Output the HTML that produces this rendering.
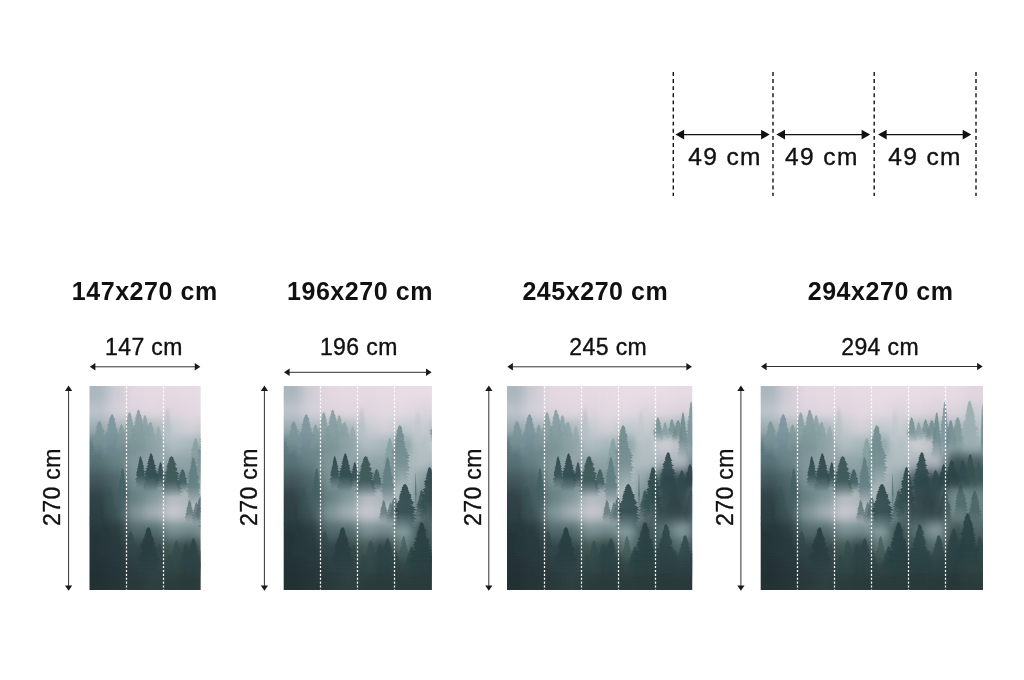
<!DOCTYPE html><html><head><meta charset="utf-8"><title>Wallpaper sizes</title>
<style>
html,body{margin:0;padding:0;background:#fff}
body{width:1024px;height:680px;position:relative;overflow:hidden;font-family:"Liberation Sans",sans-serif;color:#111}
.t{position:absolute;white-space:nowrap;line-height:1}
.h{font-weight:bold;font-size:25px;letter-spacing:0.55px}
.l{font-size:23px;letter-spacing:0.4px;-webkit-text-stroke:0.35px #111}
.c{font-size:24.5px;letter-spacing:1.4px;-webkit-text-stroke:0.35px #111}
.v{font-size:23px;letter-spacing:0.4px;-webkit-text-stroke:0.35px #111;transform-origin:0 0;transform:rotate(-90deg)}
</style></head><body>
<svg width="1024" height="680" viewBox="0 0 1024 680" style="position:absolute;left:0;top:0">
<defs>
<linearGradient id="pg" x1="0" y1="0" x2="0" y2="1"><stop offset="0" stop-color="#e0d0d9"/><stop offset="0.25" stop-color="#b9c3c6"/><stop offset="0.55" stop-color="#6f8a8c"/><stop offset="1" stop-color="#243a3e"/></linearGradient>
<g id="photo"><filter id="gb" x="-20%" y="-20%" width="140%" height="140%" color-interpolation-filters="sRGB"><feGaussianBlur stdDeviation="5.5"/></filter>
<g filter="url(#gb)">
<rect x="-30.3" y="-30.3" width="49.1" height="47.6" fill="#abb7bd"/>
<rect x="18.2" y="-30.3" width="19.1" height="47.6" fill="#d0ccd5"/>
<rect x="36.8" y="-30.3" width="19.1" height="47.6" fill="#e4d8e1"/>
<rect x="55.3" y="-30.3" width="19.1" height="47.6" fill="#e5d9e2"/>
<rect x="73.8" y="-30.3" width="19.1" height="47.6" fill="#e5d9e2"/>
<rect x="92.3" y="-30.3" width="19.1" height="47.6" fill="#e6dae3"/>
<rect x="110.9" y="-30.3" width="19.1" height="47.6" fill="#e8dce5"/>
<rect x="129.4" y="-30.3" width="19.1" height="47.6" fill="#e8dce5"/>
<rect x="147.9" y="-30.3" width="19.1" height="47.6" fill="#e8dce5"/>
<rect x="166.4" y="-30.3" width="19.1" height="47.6" fill="#e6dae3"/>
<rect x="185.0" y="-30.3" width="19.1" height="47.6" fill="#e6dae3"/>
<rect x="203.5" y="-30.3" width="49.1" height="47.6" fill="#e1d6df"/>
<rect x="-30.3" y="16.7" width="49.1" height="17.6" fill="#bec3cb"/>
<rect x="18.2" y="16.7" width="19.1" height="17.6" fill="#d4d0d8"/>
<rect x="36.8" y="16.7" width="19.1" height="17.6" fill="#ddd4dd"/>
<rect x="55.3" y="16.7" width="19.1" height="17.6" fill="#e2d7e0"/>
<rect x="73.8" y="16.7" width="19.1" height="17.6" fill="#ded5de"/>
<rect x="92.3" y="16.7" width="19.1" height="17.6" fill="#e3d8e1"/>
<rect x="110.9" y="16.7" width="19.1" height="17.6" fill="#e4d9e2"/>
<rect x="129.4" y="16.7" width="19.1" height="17.6" fill="#dbd4dd"/>
<rect x="147.9" y="16.7" width="19.1" height="17.6" fill="#e2d7e0"/>
<rect x="166.4" y="16.7" width="19.1" height="17.6" fill="#dad3db"/>
<rect x="185.0" y="16.7" width="19.1" height="17.6" fill="#ddd5dd"/>
<rect x="203.5" y="16.7" width="49.1" height="17.6" fill="#cdced4"/>
<rect x="-30.3" y="33.7" width="49.1" height="17.6" fill="#9cadb1"/>
<rect x="18.2" y="33.7" width="19.1" height="17.6" fill="#a7b6b9"/>
<rect x="36.8" y="33.7" width="19.1" height="17.6" fill="#abb9bc"/>
<rect x="55.3" y="33.7" width="19.1" height="17.6" fill="#aab8bc"/>
<rect x="73.8" y="33.7" width="19.1" height="17.6" fill="#c6cbd0"/>
<rect x="92.3" y="33.7" width="19.1" height="17.6" fill="#d4d0d7"/>
<rect x="110.9" y="33.7" width="19.1" height="17.6" fill="#bfc9cd"/>
<rect x="129.4" y="33.7" width="19.1" height="17.6" fill="#c9cdd2"/>
<rect x="147.9" y="33.7" width="19.1" height="17.6" fill="#aababd"/>
<rect x="166.4" y="33.7" width="19.1" height="17.6" fill="#a1b2b5"/>
<rect x="185.0" y="33.7" width="19.1" height="17.6" fill="#a7b7ba"/>
<rect x="203.5" y="33.7" width="49.1" height="17.6" fill="#b4c1c4"/>
<rect x="-30.3" y="50.7" width="49.1" height="17.6" fill="#607a82"/>
<rect x="18.2" y="50.7" width="19.1" height="17.6" fill="#668083"/>
<rect x="36.8" y="50.7" width="19.1" height="17.6" fill="#799194"/>
<rect x="55.3" y="50.7" width="19.1" height="17.6" fill="#8da1a4"/>
<rect x="73.8" y="50.7" width="19.1" height="17.6" fill="#afbdc1"/>
<rect x="92.3" y="50.7" width="19.1" height="17.6" fill="#a6b6b9"/>
<rect x="110.9" y="50.7" width="19.1" height="17.6" fill="#8ea5a7"/>
<rect x="129.4" y="50.7" width="19.1" height="17.6" fill="#b0bec2"/>
<rect x="147.9" y="50.7" width="19.1" height="17.6" fill="#cdcfd4"/>
<rect x="166.4" y="50.7" width="19.1" height="17.6" fill="#b7bec3"/>
<rect x="185.0" y="50.7" width="19.1" height="17.6" fill="#8da4a6"/>
<rect x="203.5" y="50.7" width="49.1" height="17.6" fill="#9cb0b2"/>
<rect x="-30.3" y="67.7" width="49.1" height="17.6" fill="#577175"/>
<rect x="18.2" y="67.7" width="19.1" height="17.6" fill="#688184"/>
<rect x="36.8" y="67.7" width="19.1" height="17.6" fill="#84989c"/>
<rect x="55.3" y="67.7" width="19.1" height="17.6" fill="#92a3a7"/>
<rect x="73.8" y="67.7" width="19.1" height="17.6" fill="#92a3a7"/>
<rect x="92.3" y="67.7" width="19.1" height="17.6" fill="#8ea4a7"/>
<rect x="110.9" y="67.7" width="19.1" height="17.6" fill="#aab8bc"/>
<rect x="129.4" y="67.7" width="19.1" height="17.6" fill="#b2bec2"/>
<rect x="147.9" y="67.7" width="19.1" height="17.6" fill="#a9b3b9"/>
<rect x="166.4" y="67.7" width="19.1" height="17.6" fill="#b0b7be"/>
<rect x="185.0" y="67.7" width="19.1" height="17.6" fill="#394e51"/>
<rect x="203.5" y="67.7" width="49.1" height="17.6" fill="#465e62"/>
<rect x="-30.3" y="84.7" width="49.1" height="17.6" fill="#43585d"/>
<rect x="18.2" y="84.7" width="19.1" height="17.6" fill="#4e676b"/>
<rect x="36.8" y="84.7" width="19.1" height="17.6" fill="#7b9396"/>
<rect x="55.3" y="84.7" width="19.1" height="17.6" fill="#688184"/>
<rect x="73.8" y="84.7" width="19.1" height="17.6" fill="#7b9194"/>
<rect x="92.3" y="84.7" width="19.1" height="17.6" fill="#7b9396"/>
<rect x="110.9" y="84.7" width="19.1" height="17.6" fill="#b0bcbf"/>
<rect x="129.4" y="84.7" width="19.1" height="17.6" fill="#8ca1a4"/>
<rect x="147.9" y="84.7" width="19.1" height="17.6" fill="#394e51"/>
<rect x="166.4" y="84.7" width="19.1" height="17.6" fill="#35494c"/>
<rect x="185.0" y="84.7" width="19.1" height="17.6" fill="#324548"/>
<rect x="203.5" y="84.7" width="49.1" height="17.6" fill="#40585b"/>
<rect x="-30.3" y="101.7" width="49.1" height="17.6" fill="#324347"/>
<rect x="18.2" y="101.7" width="19.1" height="17.6" fill="#455c60"/>
<rect x="36.8" y="101.7" width="19.1" height="17.6" fill="#688083"/>
<rect x="55.3" y="101.7" width="19.1" height="17.6" fill="#80979a"/>
<rect x="73.8" y="101.7" width="19.1" height="17.6" fill="#b2babf"/>
<rect x="92.3" y="101.7" width="19.1" height="17.6" fill="#aab6ba"/>
<rect x="110.9" y="101.7" width="19.1" height="17.6" fill="#abb7ba"/>
<rect x="129.4" y="101.7" width="19.1" height="17.6" fill="#758a8d"/>
<rect x="147.9" y="101.7" width="19.1" height="17.6" fill="#35494c"/>
<rect x="166.4" y="101.7" width="19.1" height="17.6" fill="#35494c"/>
<rect x="185.0" y="101.7" width="19.1" height="17.6" fill="#758e8e"/>
<rect x="203.5" y="101.7" width="49.1" height="17.6" fill="#6c8585"/>
<rect x="-30.3" y="118.7" width="49.1" height="17.6" fill="#2b3b3f"/>
<rect x="18.2" y="118.7" width="19.1" height="17.6" fill="#40565a"/>
<rect x="36.8" y="118.7" width="19.1" height="17.6" fill="#819699"/>
<rect x="55.3" y="118.7" width="19.1" height="17.6" fill="#a4b0b5"/>
<rect x="73.8" y="118.7" width="19.1" height="17.6" fill="#c9c9cf"/>
<rect x="92.3" y="118.7" width="19.1" height="17.6" fill="#b7bdc2"/>
<rect x="110.9" y="118.7" width="19.1" height="17.6" fill="#879a9d"/>
<rect x="129.4" y="118.7" width="19.1" height="17.6" fill="#687e81"/>
<rect x="147.9" y="118.7" width="19.1" height="17.6" fill="#374b4e"/>
<rect x="166.4" y="118.7" width="19.1" height="17.6" fill="#35494c"/>
<rect x="185.0" y="118.7" width="19.1" height="17.6" fill="#738a8a"/>
<rect x="203.5" y="118.7" width="49.1" height="17.6" fill="#688080"/>
<rect x="-30.3" y="135.7" width="49.1" height="17.6" fill="#253538"/>
<rect x="18.2" y="135.7" width="19.1" height="17.6" fill="#2b3c3e"/>
<rect x="36.8" y="135.7" width="19.1" height="17.6" fill="#536b6e"/>
<rect x="55.3" y="135.7" width="19.1" height="17.6" fill="#536b6e"/>
<rect x="73.8" y="135.7" width="19.1" height="17.6" fill="#7a9193"/>
<rect x="92.3" y="135.7" width="19.1" height="17.6" fill="#738a8c"/>
<rect x="110.9" y="135.7" width="19.1" height="17.6" fill="#879d9e"/>
<rect x="129.4" y="135.7" width="19.1" height="17.6" fill="#3e5152"/>
<rect x="147.9" y="135.7" width="19.1" height="17.6" fill="#5a7375"/>
<rect x="166.4" y="135.7" width="19.1" height="17.6" fill="#879b9c"/>
<rect x="185.0" y="135.7" width="19.1" height="17.6" fill="#3c5152"/>
<rect x="203.5" y="135.7" width="49.1" height="17.6" fill="#4d6565"/>
<rect x="-30.3" y="152.7" width="49.1" height="17.6" fill="#253437"/>
<rect x="18.2" y="152.7" width="19.1" height="17.6" fill="#2a3a3d"/>
<rect x="36.8" y="152.7" width="19.1" height="17.6" fill="#344547"/>
<rect x="55.3" y="152.7" width="19.1" height="17.6" fill="#384a4c"/>
<rect x="73.8" y="152.7" width="19.1" height="17.6" fill="#425955"/>
<rect x="92.3" y="152.7" width="19.1" height="17.6" fill="#324342"/>
<rect x="110.9" y="152.7" width="19.1" height="17.6" fill="#607a78"/>
<rect x="129.4" y="152.7" width="19.1" height="17.6" fill="#3c5050"/>
<rect x="147.9" y="152.7" width="19.1" height="17.6" fill="#3c5252"/>
<rect x="166.4" y="152.7" width="19.1" height="17.6" fill="#526b6a"/>
<rect x="185.0" y="152.7" width="19.1" height="17.6" fill="#304242"/>
<rect x="203.5" y="152.7" width="49.1" height="17.6" fill="#3a4d4b"/>
<rect x="-30.3" y="169.7" width="49.1" height="17.6" fill="#233235"/>
<rect x="18.2" y="169.7" width="19.1" height="17.6" fill="#28363a"/>
<rect x="36.8" y="169.7" width="19.1" height="17.6" fill="#2d3e40"/>
<rect x="55.3" y="169.7" width="19.1" height="17.6" fill="#334445"/>
<rect x="73.8" y="169.7" width="19.1" height="17.6" fill="#364a47"/>
<rect x="92.3" y="169.7" width="19.1" height="17.6" fill="#2b3c3c"/>
<rect x="110.9" y="169.7" width="19.1" height="17.6" fill="#354846"/>
<rect x="129.4" y="169.7" width="19.1" height="17.6" fill="#2f4141"/>
<rect x="147.9" y="169.7" width="19.1" height="17.6" fill="#2d3f3f"/>
<rect x="166.4" y="169.7" width="19.1" height="17.6" fill="#304142"/>
<rect x="185.0" y="169.7" width="19.1" height="17.6" fill="#2b3c3d"/>
<rect x="203.5" y="169.7" width="49.1" height="17.6" fill="#354745"/>
<rect x="-30.3" y="186.7" width="49.1" height="47.6" fill="#223134"/>
<rect x="18.2" y="186.7" width="19.1" height="47.6" fill="#253538"/>
<rect x="36.8" y="186.7" width="19.1" height="47.6" fill="#2a3a3c"/>
<rect x="55.3" y="186.7" width="19.1" height="47.6" fill="#2f4042"/>
<rect x="73.8" y="186.7" width="19.1" height="47.6" fill="#2b3c3c"/>
<rect x="92.3" y="186.7" width="19.1" height="47.6" fill="#2a3b3b"/>
<rect x="110.9" y="186.7" width="19.1" height="47.6" fill="#2b3c3c"/>
<rect x="129.4" y="186.7" width="19.1" height="47.6" fill="#2a3b3b"/>
<rect x="147.9" y="186.7" width="19.1" height="47.6" fill="#293a3b"/>
<rect x="166.4" y="186.7" width="19.1" height="47.6" fill="#293a3b"/>
<rect x="185.0" y="186.7" width="19.1" height="47.6" fill="#28383a"/>
<rect x="203.5" y="186.7" width="49.1" height="47.6" fill="#2b3c3c"/>
</g>
<filter id="tb0" x="-10%" y="-10%" width="120%" height="120%"><feGaussianBlur stdDeviation="0.4"/></filter>
<filter id="tb1" x="-10%" y="-10%" width="120%" height="120%"><feGaussianBlur stdDeviation="0.6"/></filter>
<filter id="tb2" x="-10%" y="-10%" width="120%" height="120%"><feGaussianBlur stdDeviation="1.8"/></filter>
<linearGradient id="tg0" x1="0" y1="0" x2="0" y2="1"><stop offset="0" stop-color="#7a9396" stop-opacity="0.85"/><stop offset="0.6" stop-color="#7a9396" stop-opacity="0.77"/><stop offset="1" stop-color="#7a9396" stop-opacity="0"/></linearGradient>
<linearGradient id="tg1" x1="0" y1="0" x2="0" y2="1"><stop offset="0" stop-color="#77909a" stop-opacity="0.85"/><stop offset="0.6" stop-color="#77909a" stop-opacity="0.77"/><stop offset="1" stop-color="#77909a" stop-opacity="0"/></linearGradient>
<linearGradient id="tg2" x1="0" y1="0" x2="0" y2="1"><stop offset="0" stop-color="#7f979a" stop-opacity="0.8"/><stop offset="0.6" stop-color="#7f979a" stop-opacity="0.72"/><stop offset="1" stop-color="#7f979a" stop-opacity="0"/></linearGradient>
<linearGradient id="tg3" x1="0" y1="0" x2="0" y2="1"><stop offset="0" stop-color="#819a9d" stop-opacity="0.82"/><stop offset="0.6" stop-color="#819a9d" stop-opacity="0.74"/><stop offset="1" stop-color="#819a9d" stop-opacity="0"/></linearGradient>
<linearGradient id="tg4" x1="0" y1="0" x2="0" y2="1"><stop offset="0" stop-color="#7d9699" stop-opacity="0.82"/><stop offset="0.6" stop-color="#7d9699" stop-opacity="0.74"/><stop offset="1" stop-color="#7d9699" stop-opacity="0"/></linearGradient>
<linearGradient id="tg5" x1="0" y1="0" x2="0" y2="1"><stop offset="0" stop-color="#849c9f" stop-opacity="0.8"/><stop offset="0.6" stop-color="#849c9f" stop-opacity="0.72"/><stop offset="1" stop-color="#849c9f" stop-opacity="0"/></linearGradient>
<linearGradient id="tg6" x1="0" y1="0" x2="0" y2="1"><stop offset="0" stop-color="#879fa2" stop-opacity="0.82"/><stop offset="0.6" stop-color="#879fa2" stop-opacity="0.74"/><stop offset="1" stop-color="#879fa2" stop-opacity="0"/></linearGradient>
<linearGradient id="tg7" x1="0" y1="0" x2="0" y2="1"><stop offset="0" stop-color="#8fa5a8" stop-opacity="0.7"/><stop offset="0.6" stop-color="#8fa5a8" stop-opacity="0.63"/><stop offset="1" stop-color="#8fa5a8" stop-opacity="0"/></linearGradient>
<linearGradient id="tg8" x1="0" y1="0" x2="0" y2="1"><stop offset="0" stop-color="#b3bec4" stop-opacity="0.7"/><stop offset="0.6" stop-color="#b3bec4" stop-opacity="0.63"/><stop offset="1" stop-color="#b3bec4" stop-opacity="0"/></linearGradient>
<linearGradient id="tg9" x1="0" y1="0" x2="0" y2="1"><stop offset="0" stop-color="#6b878a" stop-opacity="0.85"/><stop offset="0.6" stop-color="#6b878a" stop-opacity="0.77"/><stop offset="1" stop-color="#6b878a" stop-opacity="0"/></linearGradient>
<linearGradient id="tg10" x1="0" y1="0" x2="0" y2="1"><stop offset="0" stop-color="#7f999c" stop-opacity="0.7"/><stop offset="0.6" stop-color="#7f999c" stop-opacity="0.63"/><stop offset="1" stop-color="#7f999c" stop-opacity="0"/></linearGradient>
<linearGradient id="tg11" x1="0" y1="0" x2="0" y2="1"><stop offset="0" stop-color="#bfc6cc" stop-opacity="0.7"/><stop offset="0.6" stop-color="#bfc6cc" stop-opacity="0.63"/><stop offset="1" stop-color="#bfc6cc" stop-opacity="0"/></linearGradient>
<linearGradient id="tg12" x1="0" y1="0" x2="0" y2="1"><stop offset="0" stop-color="#708c8f" stop-opacity="0.85"/><stop offset="0.6" stop-color="#708c8f" stop-opacity="0.77"/><stop offset="1" stop-color="#708c8f" stop-opacity="0"/></linearGradient>
<linearGradient id="tg13" x1="0" y1="0" x2="0" y2="1"><stop offset="0" stop-color="#7f999c" stop-opacity="0.8"/><stop offset="0.6" stop-color="#7f999c" stop-opacity="0.72"/><stop offset="1" stop-color="#7f999c" stop-opacity="0"/></linearGradient>
<linearGradient id="tg14" x1="0" y1="0" x2="0" y2="1"><stop offset="0" stop-color="#748e91" stop-opacity="0.85"/><stop offset="0.6" stop-color="#748e91" stop-opacity="0.77"/><stop offset="1" stop-color="#748e91" stop-opacity="0"/></linearGradient>
<linearGradient id="tg15" x1="0" y1="0" x2="0" y2="1"><stop offset="0" stop-color="#708a8d" stop-opacity="0.85"/><stop offset="0.6" stop-color="#708a8d" stop-opacity="0.77"/><stop offset="1" stop-color="#708a8d" stop-opacity="0"/></linearGradient>
<linearGradient id="tg16" x1="0" y1="0" x2="0" y2="1"><stop offset="0" stop-color="#6b868a" stop-opacity="0.85"/><stop offset="0.6" stop-color="#6b868a" stop-opacity="0.77"/><stop offset="1" stop-color="#6b868a" stop-opacity="0"/></linearGradient>
<linearGradient id="tg17" x1="0" y1="0" x2="0" y2="1"><stop offset="0" stop-color="#6f898c" stop-opacity="0.85"/><stop offset="0.6" stop-color="#6f898c" stop-opacity="0.77"/><stop offset="1" stop-color="#6f898c" stop-opacity="0"/></linearGradient>
<linearGradient id="tg18" x1="0" y1="0" x2="0" y2="1"><stop offset="0" stop-color="#98abae" stop-opacity="0.9"/><stop offset="0.6" stop-color="#98abae" stop-opacity="0.81"/><stop offset="1" stop-color="#98abae" stop-opacity="0"/></linearGradient>
<linearGradient id="tg19" x1="0" y1="0" x2="0" y2="1"><stop offset="0" stop-color="#6f888c" stop-opacity="0.9"/><stop offset="0.6" stop-color="#6f888c" stop-opacity="0.81"/><stop offset="1" stop-color="#6f888c" stop-opacity="0"/></linearGradient>
<linearGradient id="tg20" x1="0" y1="0" x2="0" y2="1"><stop offset="0" stop-color="#2f494d" stop-opacity="0.92"/><stop offset="0.6" stop-color="#2f494d" stop-opacity="0.83"/><stop offset="1" stop-color="#2f494d" stop-opacity="0"/></linearGradient>
<linearGradient id="tg21" x1="0" y1="0" x2="0" y2="1"><stop offset="0" stop-color="#2a4448" stop-opacity="0.92"/><stop offset="0.6" stop-color="#2a4448" stop-opacity="0.83"/><stop offset="1" stop-color="#2a4448" stop-opacity="0"/></linearGradient>
<linearGradient id="tg22" x1="0" y1="0" x2="0" y2="1"><stop offset="0" stop-color="#2f494d" stop-opacity="0.9"/><stop offset="0.6" stop-color="#2f494d" stop-opacity="0.81"/><stop offset="1" stop-color="#2f494d" stop-opacity="0"/></linearGradient>
<linearGradient id="tg23" x1="0" y1="0" x2="0" y2="1"><stop offset="0" stop-color="#425e62" stop-opacity="0.8"/><stop offset="0.6" stop-color="#425e62" stop-opacity="0.72"/><stop offset="1" stop-color="#425e62" stop-opacity="0"/></linearGradient>
<linearGradient id="tg24" x1="0" y1="0" x2="0" y2="1"><stop offset="0" stop-color="#34504f" stop-opacity="0.9"/><stop offset="0.6" stop-color="#34504f" stop-opacity="0.81"/><stop offset="1" stop-color="#34504f" stop-opacity="0"/></linearGradient>
<linearGradient id="tg25" x1="0" y1="0" x2="0" y2="1"><stop offset="0" stop-color="#3a565a" stop-opacity="0.85"/><stop offset="0.6" stop-color="#3a565a" stop-opacity="0.77"/><stop offset="1" stop-color="#3a565a" stop-opacity="0"/></linearGradient>
<linearGradient id="tg26" x1="0" y1="0" x2="0" y2="1"><stop offset="0" stop-color="#5a777c" stop-opacity="0.8"/><stop offset="0.6" stop-color="#5a777c" stop-opacity="0.72"/><stop offset="1" stop-color="#5a777c" stop-opacity="0"/></linearGradient>
<linearGradient id="tg27" x1="0" y1="0" x2="0" y2="1"><stop offset="0" stop-color="#4f6a6e" stop-opacity="0.85"/><stop offset="0.6" stop-color="#4f6a6e" stop-opacity="0.77"/><stop offset="1" stop-color="#4f6a6e" stop-opacity="0"/></linearGradient>
<linearGradient id="tg28" x1="0" y1="0" x2="0" y2="1"><stop offset="0" stop-color="#425e62" stop-opacity="0.75"/><stop offset="0.6" stop-color="#425e62" stop-opacity="0.68"/><stop offset="1" stop-color="#425e62" stop-opacity="0"/></linearGradient>
<linearGradient id="tg29" x1="0" y1="0" x2="0" y2="1"><stop offset="0" stop-color="#2c464a" stop-opacity="0.92"/><stop offset="0.6" stop-color="#2c464a" stop-opacity="0.83"/><stop offset="1" stop-color="#2c464a" stop-opacity="0"/></linearGradient>
<linearGradient id="tg30" x1="0" y1="0" x2="0" y2="1"><stop offset="0" stop-color="#34504f" stop-opacity="0.85"/><stop offset="0.6" stop-color="#34504f" stop-opacity="0.77"/><stop offset="1" stop-color="#34504f" stop-opacity="0"/></linearGradient>
<linearGradient id="tg31" x1="0" y1="0" x2="0" y2="1"><stop offset="0" stop-color="#566f72" stop-opacity="0.8"/><stop offset="0.6" stop-color="#566f72" stop-opacity="0.72"/><stop offset="1" stop-color="#566f72" stop-opacity="0"/></linearGradient>
<linearGradient id="tg32" x1="0" y1="0" x2="0" y2="1"><stop offset="0" stop-color="#2a4448" stop-opacity="0.9"/><stop offset="0.6" stop-color="#2a4448" stop-opacity="0.81"/><stop offset="1" stop-color="#2a4448" stop-opacity="0"/></linearGradient>
<linearGradient id="tg33" x1="0" y1="0" x2="0" y2="1"><stop offset="0" stop-color="#3a565a" stop-opacity="0.88"/><stop offset="0.6" stop-color="#3a565a" stop-opacity="0.79"/><stop offset="1" stop-color="#3a565a" stop-opacity="0"/></linearGradient>
<linearGradient id="tg34" x1="0" y1="0" x2="0" y2="1"><stop offset="0" stop-color="#273d41" stop-opacity="0.9"/><stop offset="0.6" stop-color="#273d41" stop-opacity="0.81"/><stop offset="1" stop-color="#273d41" stop-opacity="0"/></linearGradient>
<linearGradient id="tg35" x1="0" y1="0" x2="0" y2="1"><stop offset="0" stop-color="#30474b" stop-opacity="0.7"/><stop offset="0.6" stop-color="#30474b" stop-opacity="0.63"/><stop offset="1" stop-color="#30474b" stop-opacity="0"/></linearGradient>
<linearGradient id="tg36" x1="0" y1="0" x2="0" y2="1"><stop offset="0" stop-color="#2c4447" stop-opacity="0.8"/><stop offset="0.6" stop-color="#2c4447" stop-opacity="0.72"/><stop offset="1" stop-color="#2c4447" stop-opacity="0"/></linearGradient>
<linearGradient id="tg37" x1="0" y1="0" x2="0" y2="1"><stop offset="0" stop-color="#2c4447" stop-opacity="0.7"/><stop offset="0.6" stop-color="#2c4447" stop-opacity="0.63"/><stop offset="1" stop-color="#2c4447" stop-opacity="0"/></linearGradient>
<linearGradient id="tg38" x1="0" y1="0" x2="0" y2="1"><stop offset="0" stop-color="#30494b" stop-opacity="0.6"/><stop offset="0.6" stop-color="#30494b" stop-opacity="0.54"/><stop offset="1" stop-color="#30494b" stop-opacity="0"/></linearGradient>
<linearGradient id="tg39" x1="0" y1="0" x2="0" y2="1"><stop offset="0" stop-color="#273f42" stop-opacity="0.9"/><stop offset="0.6" stop-color="#273f42" stop-opacity="0.81"/><stop offset="1" stop-color="#273f42" stop-opacity="0"/></linearGradient>
<linearGradient id="tg40" x1="0" y1="0" x2="0" y2="1"><stop offset="0" stop-color="#2a4244" stop-opacity="0.85"/><stop offset="0.6" stop-color="#2a4244" stop-opacity="0.77"/><stop offset="1" stop-color="#2a4244" stop-opacity="0"/></linearGradient>
<linearGradient id="tg41" x1="0" y1="0" x2="0" y2="1"><stop offset="0" stop-color="#2c4446" stop-opacity="0.8"/><stop offset="0.6" stop-color="#2c4446" stop-opacity="0.72"/><stop offset="1" stop-color="#2c4446" stop-opacity="0"/></linearGradient>
<linearGradient id="tg42" x1="0" y1="0" x2="0" y2="1"><stop offset="0" stop-color="#2a4244" stop-opacity="0.8"/><stop offset="0.6" stop-color="#2a4244" stop-opacity="0.72"/><stop offset="1" stop-color="#2a4244" stop-opacity="0"/></linearGradient>
<linearGradient id="tg43" x1="0" y1="0" x2="0" y2="1"><stop offset="0" stop-color="#273f42" stop-opacity="0.88"/><stop offset="0.6" stop-color="#273f42" stop-opacity="0.79"/><stop offset="1" stop-color="#273f42" stop-opacity="0"/></linearGradient>
<linearGradient id="tg44" x1="0" y1="0" x2="0" y2="1"><stop offset="0" stop-color="#2c4447" stop-opacity="0.5"/><stop offset="0.6" stop-color="#2c4447" stop-opacity="0.45"/><stop offset="1" stop-color="#2c4447" stop-opacity="0"/></linearGradient>
<linearGradient id="tg45" x1="0" y1="0" x2="0" y2="1"><stop offset="0" stop-color="#2c4447" stop-opacity="0.45"/><stop offset="0.6" stop-color="#2c4447" stop-opacity="0.41"/><stop offset="1" stop-color="#2c4447" stop-opacity="0"/></linearGradient>
<linearGradient id="tg46" x1="0" y1="0" x2="0" y2="1"><stop offset="0" stop-color="#263b3f" stop-opacity="0.5"/><stop offset="0.6" stop-color="#263b3f" stop-opacity="0.45"/><stop offset="1" stop-color="#263b3f" stop-opacity="0"/></linearGradient>
<linearGradient id="tg47" x1="0" y1="0" x2="0" y2="1"><stop offset="0" stop-color="#2c4447" stop-opacity="0.55"/><stop offset="0.6" stop-color="#2c4447" stop-opacity="0.50"/><stop offset="1" stop-color="#2c4447" stop-opacity="0"/></linearGradient>
<linearGradient id="tg48" x1="0" y1="0" x2="0" y2="1"><stop offset="0" stop-color="#30494b" stop-opacity="0.5"/><stop offset="0.6" stop-color="#30494b" stop-opacity="0.45"/><stop offset="1" stop-color="#30494b" stop-opacity="0"/></linearGradient>
<linearGradient id="tg49" x1="0" y1="0" x2="0" y2="1"><stop offset="0" stop-color="#2a4244" stop-opacity="0.55"/><stop offset="0.6" stop-color="#2a4244" stop-opacity="0.50"/><stop offset="1" stop-color="#2a4244" stop-opacity="0"/></linearGradient>
<linearGradient id="tg50" x1="0" y1="0" x2="0" y2="1"><stop offset="0" stop-color="#2a4244" stop-opacity="0.5"/><stop offset="0.6" stop-color="#2a4244" stop-opacity="0.45"/><stop offset="1" stop-color="#2a4244" stop-opacity="0"/></linearGradient>
<linearGradient id="tg51" x1="0" y1="0" x2="0" y2="1"><stop offset="0" stop-color="#2a4244" stop-opacity="0.6"/><stop offset="0.6" stop-color="#2a4244" stop-opacity="0.54"/><stop offset="1" stop-color="#2a4244" stop-opacity="0"/></linearGradient>
<linearGradient id="tg52" x1="0" y1="0" x2="0" y2="1"><stop offset="0" stop-color="#2f474b" stop-opacity="0.45"/><stop offset="0.6" stop-color="#2f474b" stop-opacity="0.41"/><stop offset="1" stop-color="#2f474b" stop-opacity="0"/></linearGradient>
<linearGradient id="tg53" x1="0" y1="0" x2="0" y2="1"><stop offset="0" stop-color="#34504f" stop-opacity="0.4"/><stop offset="0.6" stop-color="#34504f" stop-opacity="0.36"/><stop offset="1" stop-color="#34504f" stop-opacity="0"/></linearGradient>
<linearGradient id="tg54" x1="0" y1="0" x2="0" y2="1"><stop offset="0" stop-color="#2a4246" stop-opacity="0.5"/><stop offset="0.6" stop-color="#2a4246" stop-opacity="0.45"/><stop offset="1" stop-color="#2a4246" stop-opacity="0"/></linearGradient>
<linearGradient id="tg55" x1="0" y1="0" x2="0" y2="1"><stop offset="0" stop-color="#2a4246" stop-opacity="0.45"/><stop offset="0.6" stop-color="#2a4246" stop-opacity="0.41"/><stop offset="1" stop-color="#2a4246" stop-opacity="0"/></linearGradient>
<g filter="url(#tb2)">
<path d="M78.0 21.0 L78.9 22.8 L78.6 23.0 L79.5 24.6 L79.0 25.0 L79.6 26.2 L79.2 26.7 L80.3 28.6 L79.4 28.8 L80.4 31.1 L79.7 31.3 L81.4 32.8 L80.6 32.9 L81.1 35.4 L80.1 35.7 L81.6 37.7 L80.4 38.1 L81.7 40.1 L80.8 40.3 L82.8 43.7 L81.7 43.9 L82.4 47.4 L80.8 47.4 L83.4 51.0 L81.5 51.2 L83.2 54.8 L81.2 54.9 L82.5 57.5 L81.1 57.5 L83.0 61.0 L73.0 61.0 L74.3 59.0 L72.9 58.7 L74.4 54.8 L73.5 54.7 L74.1 51.7 L73.2 51.5 L75.1 48.2 L73.6 47.9 L74.4 45.6 L73.5 45.3 L74.4 42.1 L72.9 41.7 L75.4 38.6 L74.3 38.6 L75.6 36.3 L74.9 35.9 L75.7 33.6 L75.0 33.2 L76.2 31.1 L75.5 31.0 L76.3 29.0 L75.6 29.0 L76.7 27.1 L76.3 26.6 L77.0 25.3 L76.6 25.1 L77.2 23.3 L77.0 22.9Z" fill="url(#tg8)"/>
<path d="M134.0 25.0 L135.0 26.9 L134.7 27.1 L135.3 28.5 L134.8 28.6 L136.1 30.3 L135.6 30.4 L136.0 32.2 L135.6 32.3 L136.9 34.6 L136.3 34.6 L136.9 36.6 L135.8 37.0 L137.7 38.7 L136.7 38.7 L137.5 41.0 L136.1 41.1 L137.6 43.7 L136.4 43.9 L138.2 46.4 L137.1 46.5 L139.5 49.6 L137.5 49.7 L140.0 52.2 L138.2 52.4 L139.5 56.0 L137.7 56.1 L139.2 58.7 L137.1 59.0 L140.7 62.1 L139.5 62.2 L140.9 65.6 L138.5 66.0 L141.0 69.2 L139.5 69.3 L139.3 72.7 L137.7 72.9 L140.0 73.0 L128.0 73.0 L129.4 71.5 L127.8 71.2 L130.2 67.9 L128.1 67.7 L129.8 64.3 L127.6 64.3 L129.5 61.7 L127.0 61.6 L130.2 58.7 L128.6 58.6 L129.3 56.6 L127.2 56.2 L130.2 52.6 L128.5 52.5 L129.4 49.6 L128.1 49.3 L130.0 46.6 L129.1 46.4 L131.0 43.8 L130.0 43.7 L131.8 41.5 L130.8 41.1 L131.5 39.1 L130.4 39.0 L132.2 36.7 L131.4 36.7 L132.3 34.8 L131.1 34.6 L132.5 32.8 L132.0 32.4 L132.9 30.6 L132.3 30.5 L133.0 28.5 L132.6 28.4 L133.2 27.0 L132.9 26.9Z" fill="url(#tg11)"/>
</g>
<g filter="url(#tb1)">
<path d="M10.0 35.0 L11.8 37.0 L11.4 37.2 L12.5 38.8 L11.6 39.1 L13.5 41.0 L12.2 41.2 L14.2 42.7 L13.1 42.7 L15.4 45.6 L14.0 45.9 L14.5 47.5 L13.2 47.6 L15.5 49.7 L13.3 49.9 L17.5 52.4 L15.4 52.7 L18.0 55.3 L15.6 55.4 L19.4 59.3 L17.4 59.7 L17.4 62.2 L14.9 62.3 L17.9 66.0 L16.2 66.1 L19.0 70.0 L15.4 70.1 L18.0 70.2 L2.0 70.2 L3.4 69.5 L0.7 69.3 L4.6 66.3 L2.6 66.1 L5.3 62.7 L2.4 62.7 L5.2 60.1 L2.6 59.8 L3.6 55.8 L1.3 55.7 L4.8 53.0 L3.5 52.9 L6.4 50.2 L4.6 49.7 L6.6 47.3 L5.4 47.2 L6.9 44.6 L5.5 44.5 L8.0 43.1 L6.7 42.7 L7.2 40.9 L6.3 40.8 L8.2 39.0 L7.2 39.0 L8.6 37.0 L8.0 37.0Z" fill="url(#tg0)"/>
<path d="M22.5 28.0 L24.1 29.7 L23.8 30.1 L24.7 31.3 L24.1 31.7 L25.9 32.8 L25.2 33.1 L25.6 34.8 L24.4 35.2 L26.9 36.5 L25.4 36.9 L27.0 38.8 L25.4 39.2 L27.4 40.6 L26.0 41.0 L28.2 43.1 L27.0 43.2 L28.6 44.9 L26.8 45.0 L29.4 47.0 L27.5 47.1 L31.4 49.5 L29.8 49.9 L31.5 52.7 L28.2 52.7 L33.1 54.9 L30.5 55.3 L32.9 57.1 L29.8 57.5 L34.3 60.0 L29.8 60.3 L34.0 63.7 L31.2 64.0 L34.0 67.5 L30.3 67.8 L33.9 71.4 L30.4 71.8 L32.9 75.4 L30.2 75.5 L32.5 76.0 L12.5 76.0 L15.1 75.2 L13.0 75.2 L15.6 72.2 L11.1 71.8 L14.3 69.5 L10.8 69.4 L15.0 65.7 L11.9 65.6 L15.9 62.6 L12.5 62.5 L13.7 60.0 L11.7 59.8 L16.5 56.5 L14.0 56.1 L15.6 53.6 L12.5 53.4 L17.5 50.3 L15.3 49.8 L16.9 47.1 L15.5 46.9 L18.8 44.6 L16.7 44.1 L19.4 41.6 L17.3 41.5 L18.9 38.9 L17.4 38.6 L19.9 37.0 L18.9 36.8 L19.8 34.5 L19.1 34.4 L20.4 32.7 L19.5 32.4 L21.2 30.6 L20.8 30.1Z" fill="url(#tg1)"/>
<path d="M32.0 38.0 L33.2 40.0 L33.0 40.1 L33.7 41.5 L33.2 41.7 L34.8 43.7 L34.2 44.2 L35.1 46.1 L34.2 46.2 L35.9 47.9 L34.9 48.0 L36.3 50.1 L35.2 50.4 L37.8 53.1 L36.0 53.5 L37.3 56.8 L36.2 57.1 L38.0 59.3 L36.4 59.8 L38.2 62.4 L36.9 62.8 L38.0 66.4 L36.5 66.5 L38.0 66.8 L26.0 66.8 L27.7 66.2 L26.3 65.9 L27.7 62.7 L25.0 62.6 L26.9 59.9 L25.2 59.4 L28.6 56.0 L26.7 55.8 L28.4 52.5 L26.4 52.3 L29.2 50.6 L27.5 50.2 L29.7 47.6 L28.8 47.3 L29.6 45.6 L29.1 45.2 L29.8 43.0 L29.3 42.7 L30.8 40.4 L30.4 40.3Z" fill="url(#tg2)"/>
<path d="M40.0 26.0 L41.6 28.3 L41.0 28.5 L42.5 30.6 L41.6 31.0 L42.9 33.1 L42.1 33.2 L43.4 35.3 L42.5 35.4 L44.1 38.2 L42.8 38.6 L44.7 40.8 L43.5 40.8 L45.1 43.4 L44.1 43.9 L45.7 45.8 L43.6 46.1 L47.4 49.2 L45.2 49.4 L47.3 51.8 L45.9 51.9 L46.0 55.5 L43.9 55.7 L46.7 59.1 L44.5 59.4 L47.6 61.7 L44.8 61.9 L46.4 64.5 L44.6 64.7 L46.9 67.5 L44.9 67.6 L47.0 67.6 L33.0 67.6 L34.1 66.8 L32.4 66.7 L35.0 64.6 L32.9 64.3 L34.6 61.3 L33.0 61.1 L35.0 57.1 L31.9 57.0 L35.9 53.3 L33.6 52.9 L35.1 50.7 L33.1 50.4 L36.5 48.2 L34.3 48.1 L35.7 45.2 L34.4 45.0 L35.6 43.3 L34.6 42.9 L36.6 40.7 L35.5 40.7 L36.8 39.1 L35.4 38.7 L37.4 37.0 L36.6 36.9 L37.5 35.5 L37.0 35.1 L38.0 32.6 L37.0 32.5 L38.5 30.5 L37.7 30.1 L38.9 28.6 L38.5 28.1Z" fill="url(#tg3)"/>
<path d="M49.0 23.5 L50.6 25.7 L50.0 25.8 L50.9 27.6 L50.5 28.0 L52.2 29.8 L51.4 30.0 L52.5 32.0 L51.8 32.4 L53.5 33.9 L52.4 34.3 L53.5 36.6 L52.6 37.1 L54.8 39.4 L53.4 39.6 L54.2 42.3 L52.5 42.5 L55.2 44.3 L53.6 44.6 L57.1 46.7 L55.0 46.9 L57.0 50.0 L54.7 50.2 L57.5 54.0 L55.4 54.4 L55.9 58.2 L54.0 58.5 L56.9 61.0 L53.8 61.1 L56.1 64.0 L53.6 64.5 L57.1 67.3 L55.6 67.6 L57.0 68.3 L41.0 68.3 L43.3 67.3 L40.3 67.2 L42.7 63.7 L40.1 63.2 L43.7 60.4 L41.0 60.1 L43.9 56.7 L40.8 56.5 L43.1 54.2 L40.6 54.1 L41.7 51.8 L39.6 51.5 L43.0 48.9 L41.5 48.5 L44.3 46.5 L42.3 46.0 L43.3 42.6 L42.0 42.6 L44.7 40.9 L43.6 40.6 L46.3 37.8 L44.5 37.7 L45.8 36.1 L44.8 35.9 L46.5 33.9 L45.3 33.6 L46.4 31.6 L45.3 31.3 L47.2 30.0 L46.5 29.7 L47.4 27.9 L47.0 27.8 L47.9 25.9 L47.2 25.6Z" fill="url(#tg4)"/>
<path d="M55.5 29.0 L57.0 31.3 L56.5 31.4 L57.7 33.4 L57.1 33.7 L58.0 35.8 L57.1 36.3 L59.5 38.6 L57.9 38.6 L59.5 40.7 L58.4 40.8 L59.6 43.4 L58.0 43.7 L61.2 46.3 L59.4 46.6 L61.3 48.9 L59.9 49.3 L60.8 51.3 L59.7 51.7 L61.0 55.1 L59.3 55.2 L61.3 58.9 L59.8 59.4 L61.5 61.0 L49.5 61.0 L51.5 60.2 L50.0 59.8 L51.5 56.9 L49.7 56.7 L50.0 53.8 L48.5 53.7 L51.0 50.8 L48.8 50.6 L50.2 48.1 L49.0 47.6 L52.5 44.9 L50.7 44.6 L53.0 41.7 L51.5 41.5 L53.4 39.2 L52.4 38.8 L53.5 36.4 L52.3 36.3 L53.8 34.7 L53.0 34.4 L54.2 32.9 L53.8 32.8 L54.3 31.3 L54.0 31.0Z" fill="url(#tg5)"/>
<path d="M61.0 35.5 L62.7 37.8 L62.1 38.2 L63.4 40.2 L62.4 40.5 L64.4 42.5 L63.8 42.8 L64.6 45.3 L63.6 45.7 L65.2 47.3 L64.2 47.8 L66.7 49.5 L64.6 49.9 L66.6 52.8 L64.6 53.2 L67.6 56.1 L65.5 56.3 L67.4 60.2 L65.6 60.5 L67.0 61.1 L55.0 61.1 L56.0 60.2 L54.7 60.2 L56.8 57.0 L54.4 57.0 L57.5 53.6 L55.8 53.5 L57.5 49.8 L56.0 49.6 L56.7 47.5 L55.8 47.3 L57.8 45.4 L56.4 45.2 L58.2 42.7 L57.2 42.5 L58.9 40.3 L58.3 39.8 L59.7 38.1 L59.2 37.7Z" fill="url(#tg6)"/>
<path d="M69.0 40.0 L70.1 41.7 L69.7 42.0 L70.7 43.7 L70.1 43.8 L71.5 45.4 L70.7 45.7 L72.0 48.1 L71.0 48.5 L72.7 51.2 L71.6 51.6 L73.2 53.9 L71.5 54.4 L73.9 57.5 L72.5 57.7 L74.9 60.3 L73.4 60.4 L74.0 62.7 L72.4 63.1 L74.0 65.6 L64.0 65.6 L65.3 63.7 L63.9 63.6 L65.4 61.3 L63.2 60.9 L65.2 58.2 L63.3 57.8 L65.7 55.0 L64.3 54.5 L66.6 52.6 L65.4 52.3 L66.8 49.6 L66.2 49.2 L67.3 46.6 L66.6 46.5 L67.5 44.1 L66.9 43.8 L68.3 42.3 L67.8 42.1Z" fill="url(#tg7)"/>
<path d="M116.0 39.0 L118.4 41.4 L117.8 41.7 L118.8 42.9 L117.8 43.3 L119.0 44.5 L118.4 44.6 L119.0 46.5 L117.9 46.6 L120.8 49.1 L119.6 49.2 L121.2 51.4 L119.6 51.7 L120.6 54.0 L119.0 54.2 L121.7 55.8 L120.1 55.9 L122.0 58.3 L120.4 58.4 L122.1 60.9 L120.5 61.0 L124.1 64.2 L121.7 64.4 L125.1 67.0 L123.0 67.4 L126.6 69.8 L124.3 70.2 L125.6 72.6 L122.9 73.0 L126.5 75.6 L123.3 76.1 L125.4 78.4 L123.2 78.9 L127.5 82.1 L124.8 82.2 L125.6 85.5 L122.0 85.7 L126.8 88.8 L122.6 89.1 L126.2 92.1 L122.8 92.3 L125.6 94.8 L123.7 95.3 L128.5 98.4 L124.7 98.8 L128.1 101.1 L124.7 101.6 L127.0 103.0 L105.0 103.0 L107.4 102.0 L105.3 101.7 L108.1 98.3 L103.1 98.0 L108.5 94.2 L105.6 94.1 L109.6 91.7 L106.3 91.3 L108.4 87.6 L104.5 87.5 L108.2 85.3 L105.1 85.1 L108.3 81.0 L105.6 80.9 L109.4 77.9 L106.1 77.4 L108.8 74.7 L106.3 74.2 L110.5 71.1 L107.6 70.8 L110.6 68.8 L107.9 68.4 L108.8 66.5 L107.1 66.3 L108.9 64.5 L107.1 64.2 L112.1 62.2 L109.7 61.8 L111.6 58.9 L110.0 58.8 L112.3 56.2 L110.1 55.8 L112.1 54.1 L109.9 53.7 L113.0 51.1 L111.3 50.9 L113.3 48.7 L112.2 48.3 L113.9 45.8 L112.6 45.8 L113.5 44.2 L112.8 44.0 L114.5 42.8 L113.8 42.6 L114.7 41.8 L114.2 41.3Z" fill="url(#tg9)"/>
<path d="M106.0 52.0 L107.6 54.1 L107.1 54.4 L108.2 56.2 L107.6 56.7 L108.8 58.5 L108.3 58.5 L109.1 60.9 L108.3 61.1 L110.4 63.2 L109.4 63.6 L110.6 65.3 L109.0 65.6 L110.4 67.8 L109.2 68.2 L112.6 70.7 L110.2 70.8 L112.4 72.8 L110.4 73.0 L113.7 75.5 L110.7 75.9 L113.2 78.8 L111.6 78.9 L112.7 81.4 L110.1 81.6 L113.2 84.9 L110.7 85.2 L113.8 87.4 L111.0 87.5 L113.5 90.0 L111.9 90.4 L113.0 90.4 L99.0 90.4 L99.8 90.5 L97.8 90.0 L101.5 87.0 L99.6 86.9 L101.4 84.3 L99.6 84.2 L100.7 81.3 L99.2 81.2 L100.4 77.5 L98.0 77.3 L101.2 74.5 L99.7 74.0 L102.4 72.1 L100.8 71.8 L102.5 69.3 L100.8 68.8 L102.9 65.8 L101.3 65.6 L102.6 63.6 L101.5 63.5 L104.0 60.6 L102.7 60.5 L104.0 58.8 L102.8 58.6 L104.2 56.9 L103.7 56.9 L104.6 55.8 L104.1 55.3 L105.1 54.4 L104.6 53.9Z" fill="url(#tg10)"/>
<path d="M151.0 31.0 L152.4 33.5 L151.9 33.9 L153.1 35.2 L152.6 35.6 L154.0 37.9 L152.9 38.3 L154.5 40.3 L153.4 40.5 L155.2 43.3 L153.7 43.5 L155.3 46.0 L154.1 46.0 L155.4 48.3 L153.7 48.7 L156.0 50.9 L154.8 51.1 L156.7 53.5 L155.5 53.5 L156.1 56.3 L154.9 56.5 L156.0 56.6 L146.0 56.6 L147.4 55.3 L146.3 54.8 L147.7 52.4 L146.7 52.4 L147.4 48.7 L145.7 48.2 L147.6 45.6 L145.6 45.3 L148.9 42.1 L147.6 41.8 L149.1 40.0 L148.2 39.7 L149.0 37.4 L148.3 37.0 L149.4 35.2 L148.9 34.9 L150.1 32.9 L149.7 32.8Z" fill="url(#tg12)"/>
<path d="M158.0 36.0 L159.1 37.8 L158.8 38.1 L159.8 39.7 L159.4 40.1 L160.5 41.6 L159.9 42.0 L161.5 44.7 L160.6 45.0 L162.0 48.0 L160.6 48.1 L162.2 52.1 L161.0 52.1 L161.9 55.0 L160.8 55.1 L162.5 55.2 L153.5 55.2 L153.8 54.7 L152.9 54.5 L154.5 50.6 L153.2 50.5 L154.7 47.2 L153.2 47.2 L155.5 44.8 L154.8 44.5 L156.6 41.7 L155.8 41.4 L157.0 39.9 L156.4 39.5 L157.2 38.0 L156.8 37.8Z" fill="url(#tg13)"/>
<path d="M165.0 33.0 L166.4 35.2 L165.8 35.3 L166.8 36.8 L166.2 37.2 L167.8 38.8 L166.7 38.9 L168.2 41.8 L167.3 42.2 L170.1 45.0 L168.5 45.4 L170.5 48.7 L169.5 48.8 L169.9 52.8 L168.7 52.9 L170.0 53.8 L160.0 53.8 L160.8 51.4 L159.9 51.3 L162.0 48.6 L160.7 48.4 L162.3 45.5 L160.7 45.4 L161.8 43.3 L160.5 43.0 L163.0 41.1 L162.0 40.8 L163.3 39.1 L162.4 38.6 L163.4 36.5 L163.0 36.3 L164.2 34.7 L163.7 34.5Z" fill="url(#tg14)"/>
<path d="M171.0 34.0 L172.7 35.8 L172.1 36.3 L173.7 37.7 L172.8 37.9 L174.0 40.1 L173.0 40.4 L175.2 43.1 L173.7 43.3 L176.0 46.6 L174.7 46.7 L176.5 49.9 L175.1 50.3 L177.3 53.8 L175.5 54.1 L177.8 56.3 L176.1 56.6 L177.0 56.4 L165.0 56.4 L166.2 54.9 L164.3 54.4 L166.0 51.0 L164.2 50.5 L166.7 48.0 L165.7 47.8 L166.7 44.5 L165.8 44.3 L167.7 42.4 L167.0 42.0 L168.5 40.5 L167.6 40.1 L169.5 38.3 L168.5 38.0 L170.0 36.2 L169.4 35.9Z" fill="url(#tg15)"/>
<path d="M176.0 26.0 L177.1 28.4 L176.7 28.8 L177.4 30.2 L177.1 30.3 L177.7 31.9 L177.1 32.2 L178.0 34.3 L177.3 34.7 L178.7 36.9 L177.9 37.3 L178.5 39.6 L177.7 39.6 L178.9 41.3 L178.3 41.8 L179.0 43.3 L178.1 43.8 L180.3 46.1 L178.6 46.6 L180.2 48.4 L179.4 48.8 L180.6 50.8 L179.2 50.8 L180.5 53.5 L179.3 53.7 L181.4 56.8 L179.5 56.9 L181.0 60.4 L179.2 60.5 L181.3 64.5 L179.6 64.6 L181.4 68.6 L180.1 68.8 L180.9 71.5 L179.1 71.9 L181.0 74.0 L171.0 74.0 L171.8 70.9 L170.4 70.5 L171.2 68.0 L170.1 67.5 L172.6 64.4 L171.0 64.0 L172.8 61.3 L171.7 61.0 L172.4 57.4 L170.6 57.0 L173.2 53.6 L171.9 53.4 L172.8 49.9 L171.6 49.9 L173.5 46.9 L172.3 46.5 L173.9 44.7 L172.6 44.2 L173.8 42.4 L173.0 42.1 L174.2 39.3 L173.3 39.0 L174.0 37.5 L173.3 37.3 L174.4 35.7 L173.7 35.2 L174.7 32.9 L174.3 32.7 L175.0 30.8 L174.6 30.6 L175.3 28.6 L175.0 28.3Z" fill="url(#tg16)"/>
<path d="M184.0 15.5 L184.9 17.1 L184.6 17.4 L185.3 18.6 L184.8 18.8 L185.3 20.1 L185.0 20.1 L185.7 21.6 L185.2 22.0 L186.0 23.4 L185.5 23.7 L186.0 25.0 L185.2 25.4 L186.7 27.6 L185.6 27.8 L186.7 29.8 L185.7 30.2 L186.9 31.9 L185.8 32.2 L186.7 33.7 L185.9 33.9 L187.2 36.6 L186.2 36.6 L187.7 38.7 L186.6 38.9 L187.6 41.8 L186.8 41.9 L188.5 45.3 L187.1 45.6 L189.6 48.7 L187.9 48.7 L189.6 51.2 L188.3 51.5 L189.4 53.6 L187.3 53.7 L190.4 56.5 L188.8 56.9 L189.4 58.9 L187.4 59.0 L190.3 61.4 L188.3 61.7 L190.3 65.0 L189.1 65.3 L190.3 68.2 L188.3 68.4 L189.1 71.9 L187.5 72.1 L189.3 75.1 L187.7 75.3 L190.2 77.5 L187.8 77.8 L189.5 79.5 L178.5 79.5 L180.3 77.3 L178.5 76.9 L180.1 74.8 L179.1 74.5 L180.5 70.9 L178.9 70.7 L179.8 66.9 L178.8 66.6 L179.8 64.1 L178.1 64.1 L180.3 60.3 L178.0 60.2 L180.2 57.4 L178.5 57.3 L179.8 54.7 L178.0 54.3 L179.5 52.4 L178.5 51.9 L181.0 49.4 L179.0 49.1 L181.1 46.2 L179.3 45.8 L181.4 42.6 L180.5 42.4 L180.9 39.4 L179.9 39.3 L181.4 36.5 L180.2 36.3 L181.9 33.3 L181.1 33.3 L181.9 31.5 L180.9 31.1 L182.6 29.2 L181.8 29.1 L182.5 26.9 L181.9 26.6 L182.7 24.7 L182.1 24.4 L182.6 22.5 L182.3 22.3 L183.1 21.4 L182.8 20.9 L183.2 19.4 L182.8 19.0 L183.5 17.6 L183.1 17.4Z" fill="url(#tg1)"/>
<path d="M190.0 34.0 L191.5 36.0 L191.0 36.4 L192.0 37.5 L191.3 37.8 L192.2 39.1 L191.4 39.3 L193.0 41.4 L192.0 41.7 L193.5 44.1 L192.6 44.4 L194.2 47.3 L193.2 47.4 L195.5 49.7 L194.0 49.8 L196.2 51.9 L194.2 52.3 L196.3 54.9 L194.6 55.4 L196.0 58.9 L194.2 59.0 L195.3 62.6 L193.5 63.0 L196.5 65.0 L194.7 65.3 L196.0 66.0 L184.0 66.0 L185.6 63.5 L183.4 63.4 L185.3 59.7 L183.4 59.4 L184.6 56.4 L183.2 56.1 L186.1 53.9 L184.5 53.5 L186.7 51.0 L185.3 50.8 L186.8 48.5 L185.2 48.4 L187.0 46.6 L185.4 46.4 L186.9 43.6 L186.0 43.5 L187.3 41.7 L186.7 41.4 L188.5 39.5 L187.6 39.1 L188.8 37.2 L188.1 37.1 L188.9 36.1 L188.5 35.7Z" fill="url(#tg17)"/>
<path d="M197.0 31.0 L198.6 32.9 L198.1 33.1 L199.2 34.6 L198.8 34.9 L199.6 36.7 L198.7 37.1 L200.7 38.3 L199.7 38.4 L200.5 41.1 L199.5 41.2 L201.6 44.2 L200.6 44.2 L201.8 47.1 L199.9 47.4 L203.9 50.7 L202.5 51.1 L203.1 53.9 L201.4 53.9 L203.8 57.2 L201.8 57.3 L203.9 60.8 L201.9 60.8 L204.2 64.0 L202.9 64.3 L204.0 66.2 L190.0 66.2 L193.0 64.7 L190.6 64.6 L191.7 60.7 L189.5 60.6 L192.2 57.9 L190.4 57.7 L192.5 53.9 L190.3 53.9 L191.1 51.4 L189.8 51.0 L191.9 48.7 L190.5 48.7 L192.6 46.1 L191.1 45.9 L192.7 43.9 L191.6 43.9 L193.5 42.0 L192.7 42.0 L194.2 40.6 L193.1 40.1 L195.2 38.0 L194.4 37.7 L194.9 35.6 L194.4 35.2 L195.9 33.3 L195.6 32.8Z" fill="url(#tg0)"/>
<path d="M209.0 14.5 L210.6 16.8 L210.1 17.1 L211.2 18.4 L210.5 18.8 L211.4 20.0 L210.6 20.1 L212.4 22.2 L211.7 22.5 L213.0 23.8 L211.6 23.9 L213.8 25.9 L212.3 26.0 L214.6 28.6 L212.8 28.7 L215.0 31.4 L213.0 31.8 L214.6 33.7 L213.1 34.1 L216.2 36.3 L213.4 36.5 L215.1 38.8 L213.9 38.9 L217.5 41.2 L215.9 41.6 L218.3 43.8 L214.9 44.2 L217.1 47.6 L214.1 48.0 L218.8 51.5 L216.9 51.8 L217.0 54.6 L214.3 55.0 L217.2 57.0 L214.5 57.1 L217.2 59.9 L214.1 60.2 L218.3 63.3 L216.2 63.5 L216.9 67.3 L214.1 67.4 L218.0 68.9 L200.0 68.9 L202.0 67.9 L198.5 67.7 L203.4 64.5 L201.1 64.2 L202.9 61.4 L200.6 61.0 L202.7 57.8 L199.8 57.8 L202.7 54.0 L200.3 53.8 L202.1 50.2 L198.5 50.2 L202.7 47.9 L199.4 47.6 L202.1 45.2 L200.6 45.1 L201.9 43.1 L200.0 42.6 L204.1 40.6 L201.7 40.2 L203.4 37.6 L201.4 37.4 L204.4 35.1 L202.8 34.9 L205.8 32.9 L204.1 32.6 L205.7 30.4 L203.8 30.4 L205.7 28.1 L204.8 27.8 L206.1 26.3 L205.2 26.2 L206.2 24.4 L204.9 24.4 L206.5 23.3 L205.9 22.9 L206.9 21.3 L206.1 20.9 L207.5 18.8 L206.7 18.4 L207.6 16.8 L207.0 16.8Z" fill="url(#tg18)"/>
<path d="M33.0 82.0 L34.2 84.4 L33.7 84.5 L34.4 86.0 L34.1 86.4 L35.0 88.5 L34.5 88.7 L35.3 90.8 L34.4 91.1 L35.7 92.9 L34.7 92.9 L36.0 95.8 L35.0 95.9 L37.0 98.3 L35.6 98.6 L37.3 100.9 L36.1 101.0 L37.6 103.1 L35.8 103.6 L37.1 105.2 L35.9 105.6 L38.5 108.3 L37.2 108.7 L39.0 110.6 L36.8 110.7 L37.7 113.0 L36.7 113.2 L37.8 115.5 L36.7 115.8 L37.7 119.5 L36.0 119.6 L37.9 122.2 L36.1 122.5 L38.0 124.8 L36.6 125.0 L38.7 127.4 L37.1 127.6 L38.5 130.0 L27.5 130.0 L29.4 128.9 L27.2 128.5 L29.9 124.5 L28.3 124.4 L29.2 122.0 L27.3 122.0 L29.2 119.7 L27.1 119.3 L27.9 116.4 L26.8 116.3 L29.1 113.3 L27.7 113.2 L29.4 110.7 L27.2 110.4 L30.0 108.2 L28.6 108.0 L28.9 104.7 L27.8 104.4 L29.4 101.3 L28.4 101.1 L30.0 98.5 L29.2 98.3 L30.4 95.3 L29.6 95.3 L30.7 93.2 L30.1 93.1 L31.6 91.0 L30.9 90.6 L31.5 89.5 L31.1 89.0 L31.8 87.0 L31.2 86.8 L32.0 85.1 L31.6 84.9 L32.4 83.7 L32.0 83.5Z" fill="url(#tg23)"/>
<path d="M104.0 71.0 L105.4 73.4 L104.9 73.5 L105.9 74.9 L105.5 75.0 L106.4 76.6 L105.6 77.0 L106.6 78.5 L105.7 78.6 L106.9 80.5 L106.2 80.5 L108.0 82.9 L106.7 83.0 L107.5 84.7 L106.7 85.0 L108.3 86.5 L107.1 86.7 L108.6 88.4 L107.1 88.9 L109.9 90.8 L108.7 91.1 L110.2 93.0 L107.8 93.2 L109.2 95.2 L107.6 95.2 L110.9 98.9 L109.5 99.4 L111.4 102.5 L109.2 102.9 L110.3 106.1 L108.5 106.3 L111.6 109.4 L109.7 109.7 L111.9 113.1 L108.9 113.2 L110.3 115.6 L109.1 115.7 L111.0 118.7 L109.1 118.9 L111.0 119.0 L97.0 119.0 L99.4 118.0 L97.7 117.6 L100.0 114.9 L98.0 114.7 L99.7 111.3 L97.9 110.8 L99.9 108.6 L97.9 108.4 L98.9 106.1 L96.4 105.8 L99.2 102.5 L97.0 102.2 L98.4 99.4 L96.7 99.1 L100.3 96.0 L98.6 95.9 L99.9 93.5 L98.9 93.1 L100.2 90.9 L98.0 90.9 L100.6 88.2 L98.7 87.8 L100.9 85.0 L99.5 84.9 L101.5 82.0 L100.5 82.0 L102.0 80.2 L100.8 80.2 L102.3 78.6 L101.3 78.3 L102.3 76.7 L101.6 76.4 L102.8 74.8 L102.4 74.7 L102.9 72.8 L102.5 72.8Z" fill="url(#tg26)"/>
<path d="M111.0 110.0 L112.4 112.4 L111.8 112.6 L113.3 114.2 L112.6 114.3 L113.3 116.6 L112.5 116.8 L114.3 118.4 L113.3 118.9 L115.4 120.8 L113.8 121.0 L114.7 123.1 L113.4 123.5 L116.0 125.7 L114.6 125.9 L115.4 129.0 L113.9 129.2 L116.5 132.8 L115.2 133.1 L116.0 135.6 L106.0 135.6 L107.4 132.3 L106.3 132.2 L106.3 128.7 L105.3 128.2 L107.7 125.0 L106.5 124.8 L108.3 122.5 L107.4 122.4 L108.7 120.3 L107.5 119.9 L108.9 116.9 L108.2 116.8 L109.1 114.7 L108.6 114.6 L110.3 112.6 L109.8 112.2Z" fill="url(#tg28)"/>
<path d="M100.0 114.0 L101.1 115.8 L100.8 115.9 L102.1 117.9 L101.6 118.0 L102.2 119.5 L101.5 119.9 L103.0 121.9 L102.2 122.2 L103.8 124.8 L102.8 124.9 L104.3 127.1 L103.4 127.5 L104.7 129.9 L103.3 130.1 L105.0 132.5 L103.1 132.6 L104.1 135.4 L102.7 135.4 L104.5 136.4 L95.5 136.4 L97.2 134.8 L96.1 134.4 L96.1 132.1 L94.7 131.9 L96.7 129.2 L95.9 128.7 L97.4 125.7 L96.3 125.3 L97.6 123.3 L96.6 123.0 L98.3 120.2 L97.8 119.9 L98.8 117.8 L98.2 117.6 L99.1 116.0 L98.8 115.7Z" fill="url(#tg31)"/>
<path d="M107.0 116.0 L108.3 118.3 L108.0 118.6 L109.0 120.4 L108.5 120.7 L109.6 122.1 L109.0 122.4 L110.3 125.2 L109.1 125.4 L110.6 127.7 L109.8 127.8 L111.1 131.1 L109.9 131.6 L112.1 133.6 L110.1 134.1 L111.5 137.6 L110.3 137.8 L111.5 138.4 L102.5 138.4 L103.6 136.4 L102.8 136.2 L103.7 132.8 L102.3 132.4 L104.0 129.9 L102.6 129.6 L104.5 127.2 L103.2 127.1 L104.5 124.3 L103.9 124.2 L105.1 122.4 L104.6 122.1 L105.7 120.2 L105.2 119.8 L106.1 117.9 L105.8 117.9Z" fill="url(#tg31)"/>
<path d="M41.0 145.0 L42.3 146.6 L42.0 147.1 L43.0 148.1 L42.7 148.3 L44.0 150.2 L42.8 150.6 L44.8 152.6 L43.6 152.9 L44.8 155.5 L43.3 155.8 L45.7 158.7 L44.0 158.9 L47.4 161.9 L45.8 161.9 L48.1 164.4 L46.4 164.5 L47.7 166.9 L45.6 167.1 L47.1 169.5 L45.5 170.0 L49.1 173.0 L46.1 173.3 L48.9 176.0 L46.8 176.4 L48.0 177.0 L34.0 177.0 L36.5 174.6 L34.4 174.5 L36.3 171.9 L33.4 171.7 L35.9 168.7 L34.0 168.6 L35.6 165.0 L34.1 164.8 L36.3 162.4 L34.2 162.3 L36.6 160.0 L34.5 159.9 L37.9 157.3 L36.5 157.0 L38.2 155.3 L36.6 155.0 L38.6 153.5 L37.8 153.2 L38.9 151.1 L37.6 151.0 L39.3 149.6 L38.7 149.5 L39.9 147.5 L39.4 147.5Z" fill="url(#tg35)"/>
<path d="M104.0 152.0 L105.3 153.5 L104.9 153.6 L106.3 155.7 L105.9 155.8 L106.6 157.3 L105.8 157.8 L107.8 159.8 L106.3 159.8 L107.9 161.8 L106.3 162.0 L109.0 163.6 L107.3 163.8 L109.6 165.6 L107.5 165.8 L109.1 167.7 L108.2 168.1 L110.0 170.7 L108.9 171.2 L110.5 173.8 L108.0 174.1 L112.8 176.8 L111.2 177.2 L113.4 179.5 L110.9 179.5 L113.3 182.2 L111.2 182.6 L110.9 185.8 L109.5 185.9 L112.2 189.5 L109.8 189.8 L113.0 193.5 L110.2 193.9 L112.0 193.6 L96.0 193.6 L97.3 191.1 L95.5 191.0 L97.4 187.2 L95.3 186.9 L98.7 184.8 L96.3 184.4 L98.5 181.2 L97.1 180.8 L98.9 178.4 L97.0 178.0 L98.7 174.6 L97.2 174.3 L98.6 171.8 L96.8 171.6 L99.9 169.5 L98.8 169.0 L100.7 166.3 L98.8 165.9 L101.0 163.0 L100.0 163.0 L101.2 160.4 L100.4 160.2 L101.9 158.3 L101.1 158.2 L102.2 156.8 L101.7 156.6 L102.2 155.4 L101.6 155.2 L103.1 154.0 L102.5 153.8Z" fill="url(#tg36)"/>
<path d="M96.0 158.0 L97.5 159.8 L97.2 160.3 L98.6 162.1 L98.2 162.5 L98.7 164.4 L97.9 164.7 L100.2 166.2 L98.9 166.3 L100.3 168.0 L98.9 168.5 L100.9 170.7 L99.1 170.7 L102.1 173.7 L100.3 173.9 L103.6 176.4 L100.6 176.6 L102.7 180.1 L100.5 180.3 L103.7 183.0 L100.8 183.2 L102.7 186.6 L101.1 186.8 L103.0 190.0 L89.0 190.0 L90.5 190.0 L89.2 189.8 L90.4 187.7 L88.4 187.4 L91.7 184.9 L89.6 184.5 L90.5 181.0 L89.2 180.7 L91.2 178.3 L87.9 178.2 L91.8 175.3 L90.3 175.0 L92.1 172.5 L90.2 172.4 L92.3 170.1 L91.4 169.6 L92.7 167.9 L91.8 167.5 L93.9 165.3 L93.2 164.8 L94.2 163.3 L93.5 163.2 L94.7 161.9 L94.2 161.4 L95.0 159.9 L94.6 159.6Z" fill="url(#tg37)"/>
<path d="M87.0 154.0 L88.8 156.5 L88.3 156.7 L89.3 158.6 L88.5 158.7 L90.1 160.3 L88.9 160.4 L91.1 162.5 L90.2 162.8 L90.9 165.1 L89.8 165.1 L91.2 167.7 L89.6 167.7 L92.6 170.1 L90.6 170.2 L94.1 172.4 L92.8 172.8 L93.1 174.8 L91.9 174.8 L94.4 177.3 L93.0 177.8 L93.7 181.2 L92.1 181.6 L95.2 185.1 L93.3 185.5 L93.9 188.8 L92.0 189.2 L94.0 189.2 L80.0 189.2 L81.9 187.4 L80.6 186.9 L81.5 183.0 L79.5 182.9 L80.9 180.4 L79.1 180.3 L82.5 178.0 L81.0 177.6 L81.3 175.4 L79.7 175.0 L82.3 172.4 L80.8 172.0 L82.6 169.2 L81.3 168.7 L83.7 166.4 L81.8 166.2 L84.4 164.0 L83.5 163.6 L84.8 161.8 L83.3 161.6 L85.2 160.0 L84.0 159.6 L85.2 157.5 L84.7 157.4 L85.9 155.9 L85.7 155.5Z" fill="url(#tg38)"/>
<path d="M178.0 149.0 L180.0 150.9 L179.3 151.0 L180.5 152.8 L180.0 152.9 L181.5 155.2 L180.6 155.5 L182.0 157.0 L181.2 157.0 L182.3 159.0 L180.8 159.3 L182.7 161.5 L181.5 161.9 L183.0 163.3 L181.6 163.8 L184.7 166.0 L182.6 166.3 L185.8 169.4 L184.0 169.6 L187.3 172.9 L184.6 173.1 L188.6 175.7 L185.8 175.7 L186.9 179.0 L184.5 179.1 L187.1 183.0 L185.1 183.1 L187.3 186.9 L184.7 187.1 L187.0 190.6 L169.0 190.6 L171.7 189.8 L168.0 189.7 L171.1 185.8 L169.4 185.8 L170.0 183.6 L168.2 183.2 L172.7 179.8 L169.2 179.4 L171.3 176.9 L168.6 176.6 L170.8 173.2 L168.1 173.0 L171.0 170.4 L169.3 170.1 L172.8 167.8 L170.8 167.4 L173.2 165.5 L171.5 165.1 L173.9 163.1 L172.0 162.8 L174.5 161.1 L173.6 160.7 L174.7 159.5 L173.1 159.0 L175.6 157.3 L174.3 157.0 L176.0 154.6 L175.4 154.5 L176.4 152.7 L175.6 152.7 L176.7 151.3 L176.1 151.1Z" fill="url(#tg41)"/>
<path d="M193.0 142.0 L194.6 144.2 L194.1 144.2 L195.6 146.4 L194.6 146.6 L196.5 147.8 L195.8 148.2 L197.0 149.3 L195.7 149.6 L197.4 151.8 L195.7 151.9 L197.4 154.3 L196.0 154.8 L198.0 156.6 L196.7 156.8 L199.2 159.6 L197.8 160.0 L200.1 161.8 L198.0 161.8 L200.5 165.2 L198.5 165.3 L203.3 169.0 L200.7 169.1 L202.0 172.5 L199.4 172.6 L203.2 175.1 L200.4 175.5 L201.8 178.8 L199.4 178.9 L201.9 182.3 L199.9 182.5 L200.9 185.4 L197.8 185.5 L202.0 186.8 L184.0 186.8 L185.0 186.8 L182.4 186.5 L187.6 182.7 L184.5 182.5 L187.1 179.5 L184.3 179.1 L185.9 175.2 L184.0 175.2 L187.3 173.0 L185.0 172.6 L186.2 169.8 L183.4 169.4 L186.2 166.2 L184.4 166.0 L187.3 164.2 L184.9 163.8 L188.1 161.1 L185.2 160.7 L188.6 158.6 L187.2 158.3 L188.7 156.1 L186.9 155.7 L189.3 153.6 L188.4 153.5 L189.9 151.7 L188.4 151.5 L190.1 150.1 L189.2 149.6 L190.8 148.0 L189.8 148.0 L191.2 146.5 L190.8 146.3 L191.7 143.9 L191.3 143.9Z" fill="url(#tg42)"/>
<path d="M128.0 160.0 L129.9 162.5 L129.3 162.5 L130.2 164.2 L129.6 164.2 L130.8 165.8 L130.1 166.2 L131.6 167.8 L130.4 168.1 L132.1 170.2 L130.6 170.5 L133.6 172.4 L131.6 172.5 L134.6 174.4 L132.8 174.5 L135.0 177.0 L132.6 177.5 L135.5 179.2 L133.4 179.3 L135.7 183.3 L132.9 183.7 L136.1 185.7 L134.3 186.0 L134.5 188.1 L133.1 188.5 L136.7 190.9 L134.8 191.0 L135.5 192.0 L120.5 192.0 L121.7 189.6 L120.0 189.5 L123.7 186.3 L121.0 186.2 L122.0 182.9 L119.5 182.7 L122.2 179.1 L120.3 179.0 L123.7 175.8 L121.5 175.3 L123.9 172.9 L122.6 172.8 L124.4 169.9 L123.1 169.7 L125.0 168.0 L123.9 167.7 L125.7 165.9 L125.1 165.6 L126.4 163.5 L126.1 163.4 L127.1 161.6 L126.6 161.5Z" fill="url(#tg42)"/>
<path d="M70.0 158.0 L71.3 159.9 L70.8 160.2 L71.9 162.0 L71.2 162.3 L72.5 164.1 L71.9 164.4 L74.2 167.0 L73.1 167.0 L74.0 169.5 L72.7 169.6 L75.4 172.5 L73.6 172.6 L76.2 176.3 L74.7 176.4 L76.5 180.3 L74.6 180.4 L75.1 183.5 L73.3 183.9 L75.5 186.0 L73.7 186.5 L76.0 186.8 L64.0 186.8 L64.8 184.7 L63.6 184.6 L66.1 181.9 L63.5 181.9 L66.5 178.1 L64.5 177.7 L65.7 173.9 L63.9 173.8 L65.9 171.3 L64.6 171.3 L66.1 169.6 L65.2 169.3 L67.6 167.2 L66.9 167.1 L67.8 165.3 L67.1 165.1 L68.4 163.5 L67.6 163.3 L68.8 161.9 L68.2 161.4 L69.1 160.2 L68.6 159.9Z" fill="url(#tg44)"/>
<path d="M49.0 162.0 L50.4 164.2 L50.1 164.3 L51.5 166.0 L50.8 166.3 L52.0 167.6 L50.9 168.0 L52.9 170.2 L51.9 170.7 L54.0 173.2 L52.4 173.2 L53.9 176.8 L52.0 177.1 L55.0 180.8 L52.9 180.8 L54.8 183.4 L52.9 183.5 L56.1 187.4 L54.8 187.5 L55.0 187.6 L43.0 187.6 L45.0 188.0 L42.5 187.6 L44.8 184.9 L43.5 184.9 L45.1 181.1 L43.4 180.8 L44.7 177.5 L43.4 177.4 L46.2 174.2 L44.6 174.2 L46.3 171.4 L45.3 171.1 L47.4 168.5 L46.4 168.1 L47.4 166.3 L47.0 165.9 L48.0 163.8 L47.6 163.7Z" fill="url(#tg45)"/>
<path d="M29.0 150.0 L30.5 151.7 L30.1 152.2 L31.0 153.6 L30.6 153.7 L31.7 156.0 L30.9 156.5 L32.2 158.5 L31.4 159.0 L33.3 160.7 L32.2 161.1 L33.6 163.0 L32.0 163.4 L34.9 165.4 L32.6 165.8 L35.7 167.7 L34.3 167.9 L35.0 170.0 L32.9 170.5 L35.0 173.6 L32.6 173.9 L36.2 176.8 L34.7 177.2 L37.2 179.4 L34.7 179.6 L35.5 182.0 L33.2 182.1 L36.0 185.2 L22.0 185.2 L24.7 183.5 L22.2 183.3 L24.2 181.2 L21.9 180.9 L23.6 178.1 L21.4 177.9 L25.0 175.2 L22.9 174.7 L23.9 172.0 L22.4 171.8 L24.8 169.1 L22.5 168.8 L26.2 165.6 L24.4 165.3 L25.7 163.2 L24.2 163.2 L26.2 161.1 L24.5 161.0 L26.5 158.9 L25.4 158.6 L27.0 156.7 L26.5 156.6 L27.5 154.1 L26.8 154.1 L28.2 151.8 L27.7 151.8Z" fill="url(#tg46)"/>
<path d="M14.0 140.0 L16.0 142.4 L15.6 142.6 L16.6 144.1 L15.6 144.3 L17.1 145.6 L16.3 146.0 L17.7 147.3 L16.8 147.6 L18.3 149.4 L17.0 149.9 L18.5 152.2 L17.2 152.4 L20.1 155.2 L18.2 155.4 L20.4 157.6 L18.8 157.9 L21.1 160.4 L18.3 160.6 L22.1 163.6 L20.3 163.8 L23.4 167.5 L20.9 167.9 L21.3 170.2 L18.7 170.5 L21.7 174.2 L20.2 174.6 L20.9 176.6 L19.6 176.8 L23.1 180.3 L20.1 180.3 L22.0 181.6 L6.0 181.6 L8.0 180.1 L4.6 179.9 L9.1 176.9 L7.0 176.7 L8.1 173.7 L5.9 173.3 L9.3 170.0 L6.8 169.6 L9.7 167.1 L7.1 167.0 L7.1 163.5 L5.5 163.5 L9.2 160.5 L7.3 160.2 L10.1 157.1 L8.0 157.0 L10.5 155.0 L9.0 154.9 L10.6 153.3 L9.6 152.8 L11.2 151.2 L10.0 150.8 L11.6 148.9 L10.2 148.8 L12.0 147.1 L11.2 146.7 L11.8 145.1 L11.4 144.8 L12.7 142.4 L12.3 142.4Z" fill="url(#tg46)"/>
<path d="M80.0 168.0 L81.5 170.2 L81.0 170.4 L82.1 172.6 L81.7 172.9 L83.3 175.3 L82.4 175.3 L84.3 177.3 L82.9 177.6 L85.2 180.7 L83.9 180.9 L86.8 183.2 L84.6 183.2 L85.9 186.2 L83.8 186.4 L87.0 188.7 L85.0 188.8 L86.3 192.0 L84.3 192.4 L86.0 193.6 L74.0 193.6 L75.8 193.0 L73.7 192.6 L75.3 189.7 L73.6 189.4 L75.0 185.8 L73.4 185.3 L76.4 183.4 L75.0 182.9 L76.6 180.1 L74.7 179.8 L77.0 177.5 L75.8 177.2 L78.0 175.0 L77.3 174.5 L77.7 172.6 L77.1 172.6 L78.6 170.5 L78.1 170.4Z" fill="url(#tg44)"/>
<path d="M112.0 164.0 L113.4 165.9 L113.1 166.4 L114.3 168.2 L113.5 168.2 L114.3 169.8 L113.7 169.9 L115.7 172.0 L114.5 172.5 L116.0 174.3 L114.6 174.3 L116.2 177.0 L114.6 177.1 L118.5 180.2 L116.2 180.3 L118.2 184.1 L116.8 184.6 L117.6 187.6 L116.6 188.1 L119.0 190.0 L117.2 190.1 L118.0 192.8 L106.0 192.8 L108.2 189.7 L106.4 189.7 L107.9 186.5 L105.2 186.4 L107.4 183.7 L106.3 183.7 L107.1 180.9 L106.0 180.7 L108.6 178.1 L107.6 177.6 L108.4 175.3 L107.3 175.2 L109.7 173.0 L108.3 172.6 L110.1 169.8 L109.2 169.8 L110.7 168.5 L109.9 168.1 L111.0 165.8 L110.5 165.8Z" fill="url(#tg47)"/>
<path d="M120.0 150.0 L121.1 151.6 L120.7 151.9 L121.7 153.2 L121.0 153.5 L122.5 155.0 L121.6 155.2 L122.5 157.7 L121.8 158.0 L123.2 159.9 L122.2 159.9 L123.8 161.8 L122.6 162.0 L124.7 165.0 L123.5 165.3 L125.8 168.6 L124.2 168.9 L124.4 171.9 L123.4 172.2 L125.5 174.3 L123.9 174.8 L125.0 175.6 L115.0 175.6 L116.4 175.6 L115.5 175.2 L115.2 171.7 L114.1 171.3 L115.6 168.4 L114.4 168.3 L116.0 166.2 L114.7 165.9 L117.5 162.9 L116.0 162.6 L118.0 160.1 L116.8 159.7 L118.2 158.3 L117.2 157.8 L118.1 156.2 L117.4 155.9 L118.6 154.3 L118.2 153.8 L118.8 152.4 L118.6 152.0Z" fill="url(#tg48)"/>
<path d="M150.0 162.0 L151.8 164.4 L151.4 164.9 L151.9 165.9 L151.5 166.0 L153.0 167.8 L152.3 168.0 L153.6 169.9 L152.9 170.3 L153.6 172.1 L152.3 172.5 L154.4 175.1 L153.3 175.4 L155.6 178.0 L153.9 178.0 L156.4 181.2 L155.1 181.7 L155.4 184.7 L154.3 184.9 L157.0 188.8 L154.3 188.8 L156.0 190.8 L144.0 190.8 L145.8 191.0 L143.3 190.8 L145.1 187.2 L143.4 186.8 L145.6 183.9 L143.9 183.7 L145.6 180.7 L143.4 180.4 L146.0 177.4 L144.7 176.9 L147.0 175.1 L145.1 174.7 L146.9 173.2 L145.7 172.8 L146.9 170.8 L146.0 170.8 L148.2 168.5 L147.6 168.0 L148.8 166.6 L148.1 166.2 L148.9 164.3 L148.5 164.2Z" fill="url(#tg49)"/>
<path d="M168.0 164.0 L169.8 166.3 L169.1 166.3 L170.7 168.6 L169.8 168.9 L170.8 170.6 L170.1 171.0 L171.6 173.5 L170.6 173.7 L172.7 176.7 L171.8 177.2 L173.7 178.7 L171.6 179.0 L173.2 181.9 L171.8 182.3 L174.2 184.9 L172.2 185.0 L175.0 187.7 L173.2 188.0 L174.8 191.5 L173.2 191.7 L174.0 192.8 L162.0 192.8 L163.4 190.6 L161.0 190.4 L164.7 188.1 L162.7 187.9 L164.5 185.2 L162.2 185.1 L164.4 182.7 L162.5 182.3 L163.3 179.2 L161.8 179.2 L164.6 177.1 L163.8 176.6 L165.5 174.8 L164.5 174.7 L165.1 171.7 L164.3 171.6 L166.5 169.4 L165.8 169.1 L166.5 168.0 L165.8 167.6 L167.0 165.9 L166.8 165.8Z" fill="url(#tg49)"/>
<path d="M186.0 166.0 L187.5 168.3 L186.9 168.5 L188.9 170.7 L188.0 171.0 L189.5 172.3 L188.7 172.5 L189.5 175.0 L188.5 175.2 L190.4 177.6 L189.1 177.8 L190.7 179.6 L189.6 179.8 L192.5 182.5 L190.3 182.6 L193.1 185.5 L191.4 185.7 L192.1 188.9 L190.9 189.3 L192.3 192.7 L190.6 193.1 L192.5 194.8 L179.5 194.8 L181.1 192.6 L179.8 192.5 L180.7 189.4 L178.7 189.2 L181.1 185.5 L179.8 185.1 L182.3 182.3 L180.9 181.8 L181.9 179.2 L180.1 178.8 L183.1 176.2 L181.6 176.2 L183.0 174.5 L182.1 174.2 L184.1 172.1 L183.4 171.8 L184.5 170.7 L183.9 170.2 L184.8 168.4 L184.4 168.3Z" fill="url(#tg49)"/>
<path d="M201.0 168.0 L202.4 169.8 L202.0 170.0 L202.8 171.9 L202.4 171.9 L204.2 174.4 L203.5 174.7 L204.5 176.2 L203.2 176.6 L204.8 179.1 L203.7 179.1 L206.4 182.0 L204.3 182.3 L206.3 185.5 L205.3 185.7 L206.3 187.9 L205.0 188.0 L207.0 191.8 L204.7 192.2 L206.4 194.7 L204.2 194.9 L207.0 196.8 L195.0 196.8 L195.5 196.1 L194.0 196.1 L196.6 192.5 L195.2 192.4 L197.5 189.8 L195.8 189.4 L196.9 186.7 L195.7 186.6 L197.4 183.0 L195.9 183.0 L198.2 179.7 L196.9 179.5 L197.6 177.0 L196.8 176.9 L199.0 174.7 L197.8 174.5 L199.3 172.8 L198.8 172.3 L200.1 170.0 L199.5 170.0Z" fill="url(#tg50)"/>
<path d="M219.0 150.0 L220.7 152.3 L220.3 152.3 L221.3 154.4 L220.6 154.8 L221.6 156.0 L220.9 156.5 L222.9 158.7 L221.5 159.0 L223.0 161.1 L221.5 161.3 L223.6 164.1 L222.6 164.6 L225.2 166.8 L224.0 166.8 L226.0 169.7 L223.7 169.9 L226.5 172.1 L224.4 172.4 L227.0 175.4 L224.7 175.7 L225.7 178.6 L224.5 178.9 L225.2 181.8 L223.6 181.8 L225.4 185.0 L223.4 185.1 L226.0 187.7 L223.4 187.9 L226.0 188.4 L212.0 188.4 L214.4 188.1 L212.7 187.7 L213.6 184.0 L211.1 183.9 L214.2 180.6 L211.9 180.5 L213.7 177.0 L210.9 176.6 L214.3 173.5 L212.4 173.4 L214.3 171.2 L212.8 170.7 L214.9 168.6 L213.2 168.2 L216.0 165.7 L214.4 165.4 L215.3 162.4 L214.3 162.2 L216.2 160.1 L215.5 159.9 L217.3 158.0 L216.3 157.6 L217.0 155.6 L216.1 155.4 L217.7 153.7 L217.1 153.7 L218.0 151.7 L217.5 151.6Z" fill="url(#tg51)"/>
<path d="M6.0 108.0 L7.4 109.8 L7.0 110.1 L8.2 112.0 L7.7 112.0 L8.6 113.7 L7.9 114.1 L8.6 115.7 L7.6 115.7 L9.3 117.9 L8.0 118.4 L9.8 119.7 L8.9 120.0 L11.1 121.7 L9.6 122.1 L11.2 124.2 L10.2 124.2 L11.8 126.9 L10.7 127.2 L11.4 129.4 L9.9 129.5 L13.7 132.1 L10.9 132.2 L13.1 135.6 L11.7 135.7 L12.9 139.3 L11.7 139.8 L12.8 142.0 L10.8 142.2 L13.5 145.4 L10.8 145.7 L12.9 149.2 L10.5 149.4 L13.0 149.6 L-1.0 149.6 L1.1 147.0 L-1.0 146.7 L2.0 143.1 L-0.6 142.6 L1.4 140.0 L-1.2 139.9 L-0.3 137.0 L-2.2 136.9 L2.2 134.0 L-0.2 133.9 L0.1 131.9 L-1.2 131.4 L1.6 129.1 L0.4 129.0 L2.4 127.3 L1.3 126.9 L2.3 124.3 L0.8 124.1 L3.6 122.6 L2.0 122.2 L3.3 119.8 L1.8 119.3 L3.7 117.4 L2.6 117.3 L4.4 115.1 L3.4 115.0 L4.1 113.6 L3.3 113.2 L4.8 111.9 L4.0 111.7 L5.2 110.0 L4.8 109.6Z" fill="url(#tg52)"/>
<path d="M20.0 100.0 L21.6 101.9 L21.3 102.0 L22.3 103.9 L21.5 104.3 L22.6 105.8 L21.6 106.0 L22.8 108.1 L22.3 108.3 L24.0 110.4 L22.7 110.7 L24.7 113.1 L23.1 113.2 L24.8 115.7 L23.4 116.0 L24.9 118.7 L23.2 118.8 L25.6 121.6 L24.5 121.7 L27.4 124.5 L24.9 124.5 L27.6 127.2 L25.1 127.6 L26.7 129.8 L24.7 129.9 L26.2 132.7 L24.4 133.0 L28.2 135.7 L26.1 135.9 L26.6 138.7 L24.1 138.9 L27.0 141.6 L13.0 141.6 L15.1 140.5 L12.3 140.2 L15.0 136.7 L12.3 136.4 L14.7 133.1 L12.9 132.8 L14.3 129.4 L12.8 129.2 L15.0 125.4 L12.1 125.2 L15.7 122.8 L14.3 122.4 L15.9 119.2 L13.7 118.9 L16.3 116.9 L15.2 116.7 L17.4 114.2 L16.2 114.0 L17.6 111.2 L16.4 111.0 L17.0 109.1 L16.3 108.9 L18.0 107.3 L17.1 107.2 L18.2 105.9 L17.3 105.7 L18.3 104.2 L17.8 104.0 L19.2 102.7 L18.7 102.3Z" fill="url(#tg53)"/>
<path d="M167.0 100.0 L168.9 102.5 L168.2 102.8 L169.5 104.2 L168.9 104.6 L170.4 106.8 L169.5 107.1 L170.3 108.6 L169.6 109.1 L171.2 111.5 L170.1 111.6 L172.9 113.8 L171.7 113.8 L173.7 117.1 L172.1 117.1 L174.6 119.8 L171.9 119.9 L173.3 123.0 L171.2 123.1 L173.2 125.8 L171.3 125.9 L173.4 128.4 L171.4 128.4 L173.1 131.2 L171.6 131.3 L174.0 132.0 L160.0 132.0 L162.4 129.5 L160.6 129.1 L162.0 126.4 L159.8 126.1 L161.0 123.2 L159.0 122.7 L162.9 120.8 L160.3 120.3 L162.8 117.7 L161.4 117.6 L163.7 114.8 L162.2 114.6 L164.0 111.5 L162.7 111.4 L164.1 109.2 L162.8 108.8 L164.9 106.9 L163.9 106.6 L164.9 105.0 L164.2 104.6 L165.8 103.5 L165.2 103.1 L165.7 102.0 L165.4 101.6Z" fill="url(#tg54)"/>
<path d="M184.0 104.0 L185.7 106.4 L185.1 106.7 L186.5 108.0 L185.9 108.1 L187.1 109.8 L186.2 109.8 L187.4 112.1 L186.1 112.6 L187.6 114.1 L186.6 114.2 L188.5 116.3 L187.6 116.6 L189.8 118.8 L188.7 119.2 L190.4 120.8 L188.9 121.1 L191.0 124.0 L188.5 124.5 L190.5 127.7 L188.7 127.8 L191.4 130.4 L188.7 130.4 L191.4 133.9 L189.9 133.9 L190.2 136.8 L189.0 137.2 L191.0 139.2 L177.0 139.2 L179.5 137.5 L177.8 137.2 L179.5 134.7 L177.2 134.6 L178.8 131.7 L176.7 131.6 L177.8 127.9 L175.9 127.6 L179.0 124.2 L177.2 123.9 L179.3 121.7 L177.8 121.6 L180.3 119.5 L178.8 119.3 L181.0 116.6 L179.7 116.5 L180.7 114.1 L179.6 113.7 L181.4 111.9 L180.6 111.5 L182.0 110.1 L181.5 109.9 L182.8 108.0 L182.0 107.9 L182.8 106.2 L182.4 106.0Z" fill="url(#tg54)"/>
<path d="M200.0 98.0 L201.8 100.2 L201.5 100.3 L202.6 102.3 L201.6 102.4 L202.5 103.8 L202.0 104.2 L202.7 105.5 L201.7 105.9 L203.9 107.5 L202.7 107.8 L205.2 110.1 L203.2 110.3 L205.8 113.0 L204.3 113.2 L205.3 115.0 L203.9 115.5 L206.8 118.1 L204.7 118.5 L207.0 122.0 L205.2 122.3 L208.0 124.9 L205.0 125.1 L207.3 128.9 L205.0 129.0 L207.7 131.9 L205.8 132.2 L207.0 133.2 L193.0 133.2 L194.4 130.8 L192.5 130.7 L195.2 128.4 L192.4 128.3 L195.7 124.6 L193.5 124.4 L195.6 120.8 L193.6 120.7 L195.8 118.4 L194.4 118.0 L195.7 115.6 L194.0 115.5 L196.8 112.8 L194.9 112.3 L196.6 109.7 L195.3 109.5 L197.8 106.8 L196.8 106.7 L198.0 104.5 L197.4 104.1 L198.1 102.0 L197.5 102.0 L199.0 100.3 L198.6 99.9Z" fill="url(#tg55)"/>
<path d="M214.0 104.0 L215.4 106.4 L215.1 106.8 L216.2 108.4 L215.7 108.9 L217.1 110.5 L216.3 111.0 L218.0 113.3 L216.8 113.4 L218.3 115.7 L217.3 115.9 L218.5 117.9 L217.5 118.2 L219.3 121.0 L217.7 121.0 L220.1 123.4 L218.0 123.8 L221.1 125.7 L218.4 126.2 L221.9 128.3 L219.3 128.4 L221.4 130.8 L218.6 131.1 L220.6 134.1 L218.9 134.4 L222.1 136.5 L220.4 136.9 L221.0 139.2 L207.0 139.2 L207.7 136.8 L206.2 136.6 L209.0 133.7 L207.9 133.5 L208.8 130.5 L207.0 130.3 L208.6 127.8 L206.6 127.7 L210.4 124.6 L208.2 124.1 L210.3 121.1 L208.8 120.9 L210.7 119.2 L209.2 118.9 L211.3 116.9 L210.1 116.4 L211.3 114.4 L210.4 114.2 L211.2 112.8 L210.4 112.4 L211.7 110.1 L211.1 109.9 L212.5 108.3 L212.1 107.9 L213.1 106.3 L212.7 105.8Z" fill="url(#tg55)"/>
</g>
<g filter="url(#tb0)">
<path d="M221.5 18.0 L221.8 20.3 L221.7 20.7 L221.9 21.9 L221.8 22.1 L222.0 23.8 L221.9 24.1 L222.1 25.6 L221.9 25.7 L222.0 27.3 L221.9 27.7 L222.3 29.9 L222.1 30.3 L222.4 32.4 L222.2 32.5 L222.3 35.1 L222.0 35.5 L222.4 36.8 L222.1 37.2 L222.7 39.4 L222.4 39.8 L222.6 41.4 L222.2 41.9 L222.6 44.5 L222.2 44.9 L223.0 47.7 L222.6 47.7 L222.7 50.9 L222.4 51.3 L223.2 54.4 L222.7 54.8 L223.1 57.7 L222.6 57.9 L222.9 60.1 L222.6 60.2 L223.3 63.6 L222.8 63.9 L223.0 66.5 L222.5 66.9 L223.4 70.1 L222.7 70.6 L223.0 74.1 L222.7 74.4 L223.3 78.2 L222.7 78.4 L223.1 81.5 L222.5 81.9 L223.1 82.0 L219.9 82.0 L220.4 80.9 L219.9 80.7 L220.3 77.9 L220.0 77.6 L220.4 73.8 L219.9 73.6 L220.6 69.8 L220.1 69.7 L220.3 65.7 L219.9 65.6 L220.5 62.2 L219.9 61.7 L220.5 58.7 L219.9 58.6 L220.5 56.3 L220.2 56.2 L220.4 53.3 L220.1 53.0 L220.7 49.9 L220.3 49.6 L220.8 47.2 L220.4 46.9 L220.5 45.3 L220.3 44.8 L220.7 43.0 L220.3 42.7 L220.8 40.3 L220.4 40.0 L220.9 37.3 L220.7 37.2 L220.9 35.8 L220.6 35.4 L220.9 32.7 L220.6 32.4 L221.0 30.0 L220.8 29.7 L221.1 27.6 L220.8 27.4 L221.2 25.5 L221.0 25.4 L221.2 23.8 L221.1 23.3 L221.3 21.9 L221.2 21.9 L221.3 20.1 L221.2 20.0Z" fill="url(#tg19)"/>
<path d="M51.0 70.0 L52.2 72.1 L51.8 72.5 L52.7 74.0 L52.3 74.2 L53.4 75.9 L53.0 76.3 L53.7 78.0 L53.1 78.1 L54.6 80.6 L53.7 80.9 L54.9 83.1 L53.5 83.4 L55.9 85.8 L54.3 86.2 L55.6 88.0 L54.5 88.1 L55.6 91.3 L54.2 91.8 L56.8 94.0 L54.5 94.3 L56.6 97.8 L54.9 98.1 L56.5 101.5 L55.2 101.7 L56.0 102.0 L46.0 102.0 L48.0 100.6 L46.5 100.2 L47.9 96.9 L45.9 96.7 L47.2 93.8 L45.4 93.7 L48.1 90.4 L46.6 90.1 L47.3 86.8 L46.5 86.7 L48.3 83.4 L47.2 83.2 L48.6 81.3 L47.9 81.1 L49.2 78.9 L48.6 78.5 L49.5 76.5 L49.0 76.3 L49.8 74.1 L49.3 73.7 L50.1 72.7 L49.8 72.2Z" fill="url(#tg20)"/>
<path d="M61.5 67.0 L62.8 68.7 L62.3 68.8 L63.9 70.9 L63.1 71.2 L64.0 73.1 L63.4 73.6 L65.2 74.9 L64.3 75.1 L65.3 77.6 L64.2 77.8 L66.8 80.0 L65.4 80.3 L66.7 83.2 L64.9 83.5 L68.7 85.5 L66.3 85.7 L69.2 88.2 L67.7 88.6 L68.7 90.8 L66.9 90.9 L70.0 94.7 L67.0 94.9 L69.7 97.4 L66.5 97.8 L70.0 99.9 L67.6 100.2 L68.0 102.4 L65.9 102.9 L69.0 105.4 L54.0 105.4 L55.7 105.2 L53.3 105.0 L54.8 101.7 L53.0 101.4 L55.4 98.8 L53.2 98.7 L57.3 96.4 L54.6 96.3 L56.0 92.7 L53.8 92.3 L56.7 89.5 L54.5 89.2 L56.5 86.6 L54.8 86.3 L57.7 83.6 L55.8 83.1 L58.6 81.0 L56.9 80.6 L59.1 78.2 L57.5 78.0 L59.1 76.1 L57.9 76.0 L59.5 73.9 L58.6 73.7 L60.1 71.8 L59.3 71.5 L60.6 69.4 L60.0 69.4Z" fill="url(#tg21)"/>
<path d="M71.0 76.0 L72.5 78.4 L72.2 78.8 L72.6 79.9 L72.3 80.2 L73.1 82.0 L72.7 82.3 L73.6 85.0 L73.1 85.0 L74.3 87.0 L73.5 87.1 L75.7 89.9 L74.3 90.3 L75.7 93.1 L74.0 93.4 L75.8 97.1 L74.1 97.3 L75.3 100.4 L74.1 100.8 L75.5 101.6 L66.5 101.6 L67.3 101.2 L66.4 101.1 L67.7 98.7 L66.0 98.4 L67.8 95.6 L65.8 95.3 L67.8 92.2 L66.0 91.9 L67.8 89.5 L67.1 89.3 L69.0 87.1 L67.9 87.0 L69.2 84.1 L68.0 84.1 L69.5 82.0 L68.8 81.6 L69.7 80.2 L69.4 79.9 L70.3 77.8 L69.9 77.7Z" fill="url(#tg22)"/>
<path d="M82.0 70.0 L84.3 72.0 L83.8 72.4 L84.7 73.8 L83.9 73.9 L85.8 76.0 L84.8 76.1 L87.5 78.4 L85.5 78.7 L86.6 80.2 L85.2 80.3 L88.5 82.9 L86.9 83.4 L88.1 84.8 L85.7 85.0 L90.5 87.8 L88.1 88.3 L89.8 90.4 L87.7 90.4 L90.2 92.9 L87.2 92.9 L91.4 96.0 L88.9 96.4 L91.3 99.0 L89.0 99.4 L92.8 102.9 L89.9 103.4 L94.3 106.5 L90.2 106.9 L92.5 110.0 L88.4 110.2 L92.5 111.6 L71.5 111.6 L76.1 109.4 L72.4 109.1 L74.1 105.8 L70.8 105.3 L74.7 103.0 L72.6 102.9 L75.3 100.5 L71.0 100.0 L75.2 96.9 L72.9 96.8 L76.6 93.8 L73.4 93.3 L77.2 90.9 L74.0 90.4 L76.9 87.3 L74.4 87.1 L77.8 84.4 L76.0 84.1 L78.4 82.5 L76.1 82.2 L78.3 80.9 L76.6 80.4 L78.4 78.6 L77.5 78.3 L79.5 76.1 L78.5 75.9 L79.8 74.1 L79.1 73.6 L80.4 72.1 L79.8 72.1Z" fill="url(#tg24)"/>
<path d="M93.0 83.0 L94.6 84.8 L94.1 85.1 L95.3 86.3 L94.9 86.6 L95.9 88.2 L95.3 88.6 L96.3 89.9 L95.1 90.2 L97.8 93.0 L96.2 93.3 L97.6 95.5 L96.5 95.9 L98.4 98.3 L97.1 98.7 L97.9 101.5 L96.0 101.6 L98.6 105.4 L97.1 105.5 L98.5 105.4 L87.5 105.4 L89.6 101.7 L87.9 101.6 L88.4 98.3 L87.1 98.1 L89.9 95.0 L88.4 94.6 L90.4 91.9 L89.2 91.7 L90.2 89.3 L89.6 89.1 L91.3 87.2 L90.7 86.8 L91.8 84.7 L91.4 84.7Z" fill="url(#tg25)"/>
<path d="M121.4 97.8 L123.3 99.5 L122.5 99.9 L124.5 101.0 L123.8 101.1 L124.7 102.6 L124.0 103.0 L125.6 104.4 L124.2 104.6 L126.2 106.8 L125.1 107.3 L128.3 109.1 L127.0 109.2 L127.8 112.1 L126.3 112.1 L129.1 114.3 L127.4 114.6 L131.0 116.4 L129.0 116.7 L130.0 118.4 L127.1 118.6 L132.0 121.9 L129.7 121.9 L133.4 124.4 L129.5 124.5 L131.5 126.8 L128.4 127.0 L133.8 129.8 L129.7 129.8 L132.9 133.3 L129.6 133.5 L131.8 136.2 L128.3 136.3 L131.7 138.7 L128.7 138.7 L133.0 142.7 L129.5 142.9 L132.0 145.1 L129.6 145.3 L133.4 145.8 L109.4 145.8 L112.5 143.7 L109.4 143.4 L110.6 140.7 L107.6 140.6 L112.7 137.0 L109.5 136.6 L114.2 133.6 L110.8 133.4 L113.9 129.9 L110.7 129.8 L114.6 126.3 L110.4 125.9 L112.7 122.9 L109.3 122.9 L114.9 121.1 L112.8 120.7 L113.6 118.7 L111.6 118.3 L115.1 116.1 L113.5 116.0 L116.4 113.4 L114.8 113.2 L116.3 110.8 L115.1 110.7 L116.6 108.5 L115.4 108.5 L118.0 106.5 L115.9 106.2 L118.5 104.0 L117.4 103.7 L118.7 102.2 L117.8 101.8 L119.7 100.0 L119.0 99.6Z" fill="url(#tg21)"/>
<path d="M132.0 87.0 L132.2 89.5 L132.1 89.5 L132.3 91.1 L132.2 91.1 L132.3 92.8 L132.3 93.3 L132.4 94.7 L132.3 95.2 L132.5 97.2 L132.4 97.6 L132.6 99.7 L132.4 100.0 L132.7 102.1 L132.5 102.5 L132.7 104.4 L132.6 104.9 L133.0 108.0 L132.8 108.4 L132.8 111.3 L132.6 111.7 L132.8 115.2 L132.5 115.6 L133.0 118.4 L132.8 118.6 L133.0 122.0 L132.7 122.2 L132.9 122.2 L131.1 122.2 L131.2 121.0 L131.0 120.5 L131.3 117.5 L131.0 117.0 L131.2 114.9 L131.0 114.7 L131.5 111.5 L131.1 111.2 L131.2 107.6 L131.1 107.2 L131.4 104.4 L131.2 104.1 L131.6 102.4 L131.3 102.0 L131.5 99.9 L131.4 99.6 L131.6 96.7 L131.4 96.7 L131.8 94.4 L131.6 94.2 L131.8 92.6 L131.7 92.4 L131.8 90.7 L131.8 90.4 L131.8 89.0 L131.8 88.6Z" fill="url(#tg27)"/>
<path d="M146.0 81.0 L147.4 82.6 L147.2 82.6 L148.3 84.6 L147.4 85.0 L149.1 86.0 L148.4 86.3 L148.8 87.9 L148.1 88.0 L150.4 90.0 L149.3 90.1 L150.7 92.4 L149.2 92.8 L150.9 94.7 L149.5 94.9 L152.2 96.8 L150.2 97.2 L151.5 99.0 L149.3 99.5 L153.8 101.9 L151.7 101.9 L152.2 104.0 L150.5 104.3 L153.5 107.4 L150.9 107.5 L153.2 109.7 L151.1 109.9 L156.5 112.4 L153.0 112.8 L154.6 115.5 L151.2 115.8 L154.7 119.4 L152.5 119.5 L157.2 122.9 L154.5 123.1 L157.7 125.6 L155.4 126.0 L154.7 128.9 L151.9 129.4 L155.5 131.4 L151.8 131.8 L154.8 134.3 L152.0 134.4 L156.5 137.5 L153.8 137.5 L156.0 138.6 L136.0 138.6 L137.7 137.6 L134.4 137.5 L139.1 134.0 L136.6 134.0 L137.0 130.4 L134.3 129.9 L138.2 126.2 L134.2 126.0 L140.1 123.2 L136.4 122.8 L137.2 120.5 L134.7 120.1 L137.8 116.4 L135.4 116.1 L140.3 112.5 L137.9 112.4 L138.6 109.9 L136.6 109.8 L141.6 107.1 L139.0 106.8 L140.7 103.9 L138.5 103.9 L142.6 100.9 L140.5 100.8 L141.9 99.2 L140.6 98.8 L141.3 95.9 L140.1 95.7 L143.3 93.0 L141.5 93.0 L143.3 90.6 L142.3 90.6 L143.6 88.6 L142.4 88.5 L144.0 86.4 L143.2 86.1 L144.5 85.1 L143.9 84.7 L144.7 82.7 L144.4 82.6Z" fill="url(#tg29)"/>
<path d="M138.0 104.0 L139.3 105.6 L138.8 105.8 L140.2 107.8 L139.8 108.0 L140.3 109.8 L139.8 110.1 L140.9 111.9 L140.1 111.9 L141.3 113.8 L140.3 113.9 L142.9 116.8 L141.9 117.1 L142.9 119.1 L141.9 119.4 L144.4 122.4 L141.9 122.5 L144.8 125.5 L143.5 125.8 L143.2 128.3 L141.8 128.5 L143.5 132.3 L141.6 132.3 L144.0 132.8 L132.0 132.8 L132.9 132.2 L131.7 131.9 L132.6 128.2 L131.1 127.8 L133.9 124.9 L132.6 124.8 L134.0 121.2 L131.9 121.1 L134.3 118.9 L132.5 118.9 L134.4 116.8 L133.6 116.5 L135.3 113.7 L134.5 113.4 L136.0 110.9 L135.2 110.7 L136.5 108.8 L135.9 108.3 L136.9 106.3 L136.2 106.3Z" fill="url(#tg30)"/>
<path d="M161.0 66.0 L162.9 67.8 L162.3 68.1 L163.6 69.3 L162.7 69.8 L163.8 71.2 L163.1 71.5 L164.6 73.3 L163.9 73.6 L165.7 74.9 L163.8 74.9 L165.4 77.5 L163.7 77.6 L167.1 79.8 L164.7 79.9 L166.1 81.6 L164.4 81.8 L168.1 84.8 L166.6 85.1 L169.1 88.1 L166.3 88.2 L168.3 90.9 L166.9 91.1 L170.0 93.4 L168.0 93.5 L169.4 96.6 L166.5 96.7 L171.2 99.9 L167.7 100.2 L171.4 103.3 L169.5 103.5 L170.5 107.5 L167.8 107.6 L171.1 110.0 L167.3 110.0 L170.8 112.5 L167.3 112.6 L170.5 114.0 L151.5 114.0 L154.6 111.7 L150.5 111.6 L154.8 109.5 L152.9 109.2 L154.5 106.7 L152.8 106.2 L154.7 103.7 L151.0 103.6 L153.2 101.3 L150.0 101.0 L155.0 98.2 L152.6 98.1 L154.1 95.2 L151.1 94.8 L155.5 92.2 L152.7 91.9 L155.9 89.7 L153.0 89.4 L155.6 86.6 L154.0 86.6 L156.3 84.4 L154.0 84.2 L157.5 81.4 L155.4 81.1 L156.9 79.1 L155.1 78.7 L157.7 76.3 L156.9 76.1 L158.7 73.9 L157.7 73.8 L158.7 72.6 L157.5 72.2 L159.2 70.3 L158.5 69.9 L159.8 68.4 L159.4 67.9Z" fill="url(#tg29)"/>
<path d="M175.0 84.0 L176.6 86.3 L176.2 86.7 L177.7 88.4 L176.7 88.4 L178.4 90.2 L177.5 90.4 L179.4 92.8 L178.3 93.0 L180.5 96.0 L179.3 96.5 L181.6 99.6 L180.0 99.9 L180.3 102.4 L179.0 102.5 L181.2 105.9 L179.5 106.1 L181.0 106.4 L169.0 106.4 L170.6 105.8 L168.3 105.8 L170.6 102.1 L168.0 101.6 L171.5 98.6 L169.2 98.4 L171.0 95.7 L169.2 95.4 L172.0 93.3 L170.7 93.0 L172.2 90.3 L171.4 90.0 L173.4 87.9 L172.7 87.5 L173.7 86.0 L173.3 85.8Z" fill="url(#tg22)"/>
<path d="M183.0 78.0 L184.3 79.6 L184.0 79.9 L185.5 81.8 L184.6 82.1 L185.7 83.4 L184.9 83.8 L186.7 85.4 L185.3 85.6 L187.2 87.3 L186.0 87.6 L188.5 89.8 L187.2 90.1 L188.3 93.2 L186.5 93.5 L190.0 96.6 L188.2 96.6 L189.0 100.6 L186.9 101.0 L189.0 103.6 L177.0 103.6 L178.9 101.8 L177.7 101.6 L179.1 98.7 L177.2 98.6 L178.8 95.7 L176.5 95.5 L178.7 93.3 L177.7 93.0 L179.5 89.8 L178.6 89.6 L180.0 87.1 L179.2 86.8 L181.4 84.4 L180.3 84.1 L181.3 82.4 L180.7 82.3 L181.9 80.6 L181.3 80.4Z" fill="url(#tg32)"/>
<path d="M191.0 74.0 L192.9 75.9 L192.5 76.3 L193.9 78.2 L193.3 78.4 L193.9 80.4 L193.0 80.6 L194.5 82.9 L193.7 82.9 L196.0 85.2 L194.9 85.6 L197.0 87.4 L194.9 87.7 L198.5 90.1 L196.2 90.3 L199.2 92.9 L196.5 93.0 L198.5 96.2 L197.1 96.2 L198.6 99.1 L196.4 99.5 L197.2 102.7 L194.8 102.8 L198.0 102.8 L184.0 102.8 L187.0 100.2 L185.0 100.2 L186.3 96.8 L184.7 96.6 L185.5 93.7 L183.8 93.4 L186.6 90.0 L185.5 89.5 L187.6 87.5 L186.1 87.2 L187.9 84.3 L187.1 84.1 L188.0 82.2 L186.8 81.9 L189.3 80.2 L188.2 79.9 L189.4 77.6 L188.5 77.6 L190.1 75.7 L189.5 75.7Z" fill="url(#tg32)"/>
<path d="M202.0 74.0 L203.6 76.0 L203.2 76.2 L204.3 77.7 L203.4 77.7 L205.4 79.2 L204.7 79.5 L205.9 81.9 L205.0 82.0 L206.8 84.2 L205.3 84.6 L207.7 86.6 L205.7 86.9 L208.3 89.3 L205.9 89.4 L208.3 92.7 L206.5 93.2 L209.6 96.1 L207.9 96.6 L208.9 99.2 L207.3 99.2 L208.6 102.4 L206.8 102.7 L209.0 102.8 L195.0 102.8 L196.9 100.8 L194.3 100.8 L196.0 97.3 L193.9 97.1 L196.7 94.1 L195.5 93.9 L198.4 90.8 L196.1 90.5 L198.3 88.2 L196.2 88.1 L198.3 85.5 L197.5 85.4 L199.4 83.1 L198.5 82.7 L200.1 80.8 L199.0 80.4 L200.1 78.6 L199.3 78.4 L200.9 76.3 L200.2 76.0Z" fill="url(#tg22)"/>
<path d="M209.5 68.0 L211.1 70.2 L210.5 70.6 L211.7 71.8 L211.1 72.1 L211.8 73.3 L211.3 73.4 L212.3 74.9 L211.7 75.2 L212.4 76.8 L211.8 77.2 L213.2 79.4 L212.3 79.4 L213.8 81.5 L213.0 81.5 L215.0 83.6 L213.7 83.8 L215.8 85.8 L214.6 86.2 L215.0 88.8 L213.7 89.2 L216.7 92.6 L214.6 93.1 L216.0 95.8 L214.3 96.2 L217.0 99.2 L214.5 99.6 L215.8 103.1 L213.3 103.4 L216.0 103.2 L203.0 103.2 L204.2 102.8 L202.8 102.3 L205.1 98.9 L203.5 98.5 L205.0 95.0 L203.4 94.8 L205.0 91.6 L202.9 91.3 L205.3 88.8 L203.2 88.7 L205.3 85.7 L203.7 85.7 L206.6 82.8 L204.7 82.7 L206.3 80.9 L205.4 80.8 L206.9 78.6 L205.3 78.4 L207.5 76.1 L206.9 75.7 L207.6 74.1 L207.0 73.8 L208.0 72.1 L207.3 72.0 L208.3 70.8 L207.9 70.5Z" fill="url(#tg24)"/>
<path d="M218.0 76.0 L219.4 77.9 L219.0 77.9 L219.8 79.4 L219.3 79.6 L221.3 82.0 L220.4 82.2 L221.1 84.1 L220.0 84.5 L221.7 86.3 L221.0 86.5 L223.3 89.4 L222.3 89.5 L224.4 92.4 L221.9 92.9 L224.4 95.4 L222.0 95.4 L224.7 97.8 L223.4 98.3 L223.3 101.2 L222.1 101.4 L224.0 101.6 L212.0 101.6 L213.8 99.9 L211.7 99.5 L214.2 97.1 L212.6 96.8 L214.4 94.6 L212.0 94.3 L213.4 92.0 L212.3 91.7 L213.8 88.9 L212.7 88.8 L215.4 86.7 L213.8 86.3 L215.6 84.2 L214.7 84.0 L216.2 81.2 L215.1 81.2 L216.6 80.1 L215.9 79.6 L217.0 78.2 L216.4 78.1Z" fill="url(#tg33)"/>
<path d="M59.0 141.0 L61.2 143.3 L60.4 143.5 L61.7 145.3 L61.1 145.5 L62.2 147.2 L61.3 147.7 L62.9 148.9 L61.8 149.2 L63.5 150.6 L62.3 150.7 L64.8 152.3 L63.6 152.7 L64.8 155.0 L62.9 155.3 L66.5 157.7 L64.4 157.8 L65.8 159.9 L63.2 160.1 L68.6 161.9 L66.8 162.0 L68.9 165.5 L65.0 165.6 L68.7 168.2 L65.0 168.3 L69.8 170.5 L66.6 170.6 L71.6 174.5 L67.9 174.9 L71.1 177.4 L68.3 177.6 L69.6 181.1 L65.8 181.3 L71.0 183.7 L66.8 183.9 L70.5 187.5 L68.2 187.8 L70.0 189.0 L48.0 189.0 L52.4 187.1 L49.0 186.8 L49.3 184.4 L46.2 184.3 L51.0 180.9 L46.1 180.6 L52.0 177.3 L48.6 176.8 L50.5 173.4 L46.1 173.1 L49.9 171.1 L47.6 170.6 L52.5 167.6 L49.8 167.2 L53.7 164.0 L50.8 163.6 L52.1 162.0 L50.2 161.5 L52.2 158.7 L50.4 158.4 L53.9 156.2 L52.1 155.9 L53.9 153.5 L52.8 153.4 L55.2 151.9 L53.9 151.6 L56.2 149.4 L54.3 149.3 L56.6 147.2 L55.7 147.0 L56.8 145.7 L55.9 145.3 L57.1 143.5 L56.6 143.2Z" fill="url(#tg34)"/>
<path d="M138.0 136.0 L140.3 138.2 L139.8 138.4 L140.6 140.0 L140.1 140.1 L141.2 142.3 L140.5 142.3 L143.1 144.6 L141.4 144.9 L142.4 146.6 L141.4 146.8 L143.0 149.1 L141.2 149.3 L143.6 151.8 L141.4 152.0 L146.2 154.1 L144.4 154.2 L145.8 156.9 L144.0 157.3 L146.6 158.9 L144.0 159.2 L148.0 161.7 L144.9 162.0 L149.0 165.1 L145.0 165.1 L150.7 167.6 L146.7 168.1 L150.8 171.5 L146.7 171.9 L152.0 174.7 L147.9 175.1 L150.7 178.3 L146.1 178.6 L150.9 181.5 L147.9 181.6 L149.2 184.5 L147.1 184.7 L152.0 187.6 L148.8 188.1 L148.7 190.9 L145.3 190.9 L150.0 193.6 L126.0 193.6 L129.9 192.5 L125.8 192.2 L129.1 190.0 L126.3 189.7 L127.8 186.9 L125.3 186.5 L128.9 183.6 L124.9 183.2 L129.3 180.6 L127.1 180.2 L129.3 176.8 L125.5 176.4 L127.9 173.5 L125.6 173.1 L131.2 169.6 L127.3 169.3 L128.7 166.6 L126.1 166.3 L132.5 163.0 L129.1 162.8 L131.1 159.5 L128.5 159.4 L131.2 157.2 L129.6 157.0 L133.1 154.5 L130.7 154.3 L132.5 153.0 L130.3 152.5 L134.1 150.7 L132.4 150.4 L133.9 147.9 L132.3 147.9 L134.4 145.9 L133.3 145.5 L135.6 143.4 L134.5 143.3 L135.7 141.6 L134.7 141.2 L136.2 139.7 L135.6 139.4 L136.3 138.2 L135.9 138.0Z" fill="url(#tg39)"/>
<path d="M159.0 138.0 L160.7 139.8 L160.1 140.1 L161.7 142.0 L161.0 142.4 L162.1 143.8 L161.3 143.9 L163.4 146.1 L162.5 146.2 L163.2 148.8 L161.7 149.1 L163.7 150.8 L162.4 151.1 L164.9 153.2 L163.3 153.6 L166.1 156.0 L164.5 156.2 L165.4 158.8 L163.0 159.0 L166.4 161.8 L165.0 161.9 L167.7 164.6 L166.1 164.7 L168.9 167.2 L165.7 167.4 L170.4 169.7 L167.0 170.0 L170.6 172.5 L166.2 172.8 L169.3 174.9 L165.9 175.4 L170.3 178.1 L165.8 178.2 L168.7 182.2 L164.9 182.3 L169.2 185.2 L166.0 185.4 L169.0 188.4 L165.4 188.7 L169.0 189.2 L149.0 189.2 L153.2 187.8 L150.1 187.4 L151.0 185.2 L149.2 185.0 L152.6 181.9 L148.4 181.6 L152.8 179.5 L149.6 179.3 L152.0 175.5 L149.1 175.1 L152.9 172.3 L149.6 172.2 L152.0 169.1 L149.0 168.7 L152.9 166.1 L149.9 165.9 L152.7 164.1 L149.3 163.7 L154.1 160.8 L151.2 160.3 L153.0 157.6 L151.2 157.4 L154.4 155.3 L152.9 154.8 L154.3 153.4 L152.4 153.0 L155.8 151.1 L154.4 150.8 L155.6 148.5 L154.5 148.0 L156.4 146.6 L154.9 146.3 L156.6 144.4 L156.0 144.2 L157.4 142.6 L156.6 142.4 L157.6 140.2 L156.9 140.1Z" fill="url(#tg40)"/>
<path d="M207.0 127.0 L209.0 129.4 L208.3 129.8 L209.7 130.8 L208.9 131.2 L210.0 132.8 L208.9 133.0 L210.9 134.8 L209.8 134.8 L212.0 136.7 L210.3 136.8 L212.7 138.4 L211.5 138.6 L212.3 140.4 L211.2 140.8 L214.0 143.2 L212.3 143.3 L213.3 146.2 L211.8 146.3 L214.9 148.0 L212.2 148.4 L215.5 150.1 L212.9 150.1 L215.1 152.4 L213.3 152.7 L215.5 155.7 L212.5 155.9 L216.1 158.3 L214.0 158.3 L216.5 161.2 L213.4 161.4 L220.2 164.2 L217.0 164.4 L218.2 168.2 L214.2 168.5 L220.1 172.0 L216.3 172.3 L221.0 174.9 L217.6 175.3 L220.8 178.2 L216.7 178.7 L221.0 181.4 L216.4 181.6 L219.4 184.7 L216.7 185.2 L220.0 187.4 L216.3 187.6 L220.8 190.0 L218.3 190.3 L219.0 191.0 L195.0 191.0 L199.2 189.0 L196.3 188.9 L198.4 185.9 L195.8 185.8 L198.6 183.5 L194.0 183.1 L197.9 179.8 L193.7 179.6 L198.1 177.2 L193.2 176.7 L199.1 174.0 L196.7 173.9 L199.9 171.2 L196.0 170.8 L196.1 167.3 L193.0 167.0 L198.1 163.5 L195.2 163.0 L199.7 160.3 L197.1 160.1 L201.1 157.5 L198.6 157.1 L200.0 154.4 L197.9 154.3 L202.0 152.3 L199.0 151.8 L202.8 149.8 L200.2 149.7 L200.6 148.0 L199.0 147.8 L202.9 145.3 L200.9 145.2 L202.9 142.9 L201.7 142.8 L203.7 140.8 L202.2 140.4 L203.4 138.7 L202.0 138.3 L203.4 136.4 L202.1 135.9 L204.6 133.7 L203.6 133.6 L204.5 131.9 L203.5 131.8 L205.3 130.3 L204.6 130.3 L205.8 128.6 L205.2 128.6Z" fill="url(#tg43)"/>
</g></g>
</defs>
<line x1="673.3" y1="72" x2="673.3" y2="196" stroke="#111" stroke-width="1.4" stroke-dasharray="3.9 3.2"/>
<line x1="773.0" y1="72" x2="773.0" y2="196" stroke="#111" stroke-width="1.4" stroke-dasharray="3.9 3.2"/>
<line x1="874.2" y1="72" x2="874.2" y2="196" stroke="#111" stroke-width="1.4" stroke-dasharray="3.9 3.2"/>
<line x1="976.0" y1="72" x2="976.0" y2="196" stroke="#111" stroke-width="1.4" stroke-dasharray="3.9 3.2"/>
<line x1="683.1" y1="134.6" x2="762.1" y2="134.6" stroke="#111" stroke-width="1.3"/><polygon points="675.5,134.6 684.1,129.79999999999998 684.1,139.4" fill="#111"/><polygon points="769.7,134.6 761.1,129.79999999999998 761.1,139.4" fill="#111"/>
<line x1="784.0" y1="134.6" x2="862.6" y2="134.6" stroke="#111" stroke-width="1.3"/><polygon points="776.4,134.6 785.0,129.79999999999998 785.0,139.4" fill="#111"/><polygon points="870.2,134.6 861.6,129.79999999999998 861.6,139.4" fill="#111"/>
<line x1="885.7" y1="134.6" x2="963.6999999999999" y2="134.6" stroke="#111" stroke-width="1.3"/><polygon points="878.1,134.6 886.7,129.79999999999998 886.7,139.4" fill="#111"/><polygon points="971.3,134.6 962.6999999999999,129.79999999999998 962.6999999999999,139.4" fill="#111"/>
<svg x="89.5" y="386" width="111.15" height="204" viewBox="0 0 111.15 204"><use href="#photo"/></svg>
<line x1="126.50" y1="386.6" x2="126.50" y2="590" stroke="#fff" stroke-width="1.25" stroke-dasharray="2.1 1.8"/>
<line x1="163.50" y1="386.6" x2="163.50" y2="590" stroke="#fff" stroke-width="1.25" stroke-dasharray="2.1 1.8"/>
<line x1="94.39999999999999" y1="366.8" x2="195.74999999999997" y2="366.8" stroke="#1a1a1a" stroke-width="0.9"/><polygon points="89.8,366.8 95.39999999999999,363.1 95.39999999999999,370.5" fill="#1a1a1a"/><polygon points="200.34999999999997,366.8 194.74999999999997,363.1 194.74999999999997,370.5" fill="#1a1a1a"/>
<line x1="68.6" y1="390.0" x2="68.6" y2="586.4" stroke="#1a1a1a" stroke-width="0.9"/><polygon points="68.6,385.6 65.0,391.0 72.19999999999999,391.0" fill="#1a1a1a"/><polygon points="68.6,590.8 65.0,585.4 72.19999999999999,585.4" fill="#1a1a1a"/>
<svg x="283.7" y="386" width="148.20" height="204" viewBox="0 0 148.20 204"><use href="#photo"/></svg>
<line x1="320.50" y1="386.6" x2="320.50" y2="590" stroke="#fff" stroke-width="1.25" stroke-dasharray="2.1 1.8"/>
<line x1="357.50" y1="386.6" x2="357.50" y2="590" stroke="#fff" stroke-width="1.25" stroke-dasharray="2.1 1.8"/>
<line x1="394.50" y1="386.6" x2="394.50" y2="590" stroke="#fff" stroke-width="1.25" stroke-dasharray="2.1 1.8"/>
<line x1="288.6" y1="372.3" x2="426.99999999999994" y2="372.3" stroke="#1a1a1a" stroke-width="0.9"/><polygon points="284.0,372.3 289.6,368.6 289.6,376.0" fill="#1a1a1a"/><polygon points="431.59999999999997,372.3 425.99999999999994,368.6 425.99999999999994,376.0" fill="#1a1a1a"/>
<line x1="264.4" y1="390.0" x2="264.4" y2="586.4" stroke="#1a1a1a" stroke-width="0.9"/><polygon points="264.4,385.6 260.79999999999995,391.0 268.0,391.0" fill="#1a1a1a"/><polygon points="264.4,590.8 260.79999999999995,585.4 268.0,585.4" fill="#1a1a1a"/>
<svg x="507.0" y="386" width="185.25" height="204" viewBox="0 0 185.25 204"><use href="#photo"/></svg>
<line x1="544.50" y1="386.6" x2="544.50" y2="590" stroke="#fff" stroke-width="1.25" stroke-dasharray="2.1 1.8"/>
<line x1="581.50" y1="386.6" x2="581.50" y2="590" stroke="#fff" stroke-width="1.25" stroke-dasharray="2.1 1.8"/>
<line x1="618.50" y1="386.6" x2="618.50" y2="590" stroke="#fff" stroke-width="1.25" stroke-dasharray="2.1 1.8"/>
<line x1="655.50" y1="386.6" x2="655.50" y2="590" stroke="#fff" stroke-width="1.25" stroke-dasharray="2.1 1.8"/>
<line x1="511.9" y1="366.8" x2="687.35" y2="366.8" stroke="#1a1a1a" stroke-width="0.9"/><polygon points="507.3,366.8 512.9,363.1 512.9,370.5" fill="#1a1a1a"/><polygon points="691.95,366.8 686.35,363.1 686.35,370.5" fill="#1a1a1a"/>
<line x1="488.8" y1="390.0" x2="488.8" y2="586.4" stroke="#1a1a1a" stroke-width="0.9"/><polygon points="488.8,385.6 485.2,391.0 492.40000000000003,391.0" fill="#1a1a1a"/><polygon points="488.8,590.8 485.2,585.4 492.40000000000003,585.4" fill="#1a1a1a"/>
<svg x="760.7" y="386" width="222.30" height="204" viewBox="0 0 222.30 204"><use href="#photo"/></svg>
<line x1="797.50" y1="386.6" x2="797.50" y2="590" stroke="#fff" stroke-width="1.25" stroke-dasharray="2.1 1.8"/>
<line x1="834.50" y1="386.6" x2="834.50" y2="590" stroke="#fff" stroke-width="1.25" stroke-dasharray="2.1 1.8"/>
<line x1="871.50" y1="386.6" x2="871.50" y2="590" stroke="#fff" stroke-width="1.25" stroke-dasharray="2.1 1.8"/>
<line x1="908.50" y1="386.6" x2="908.50" y2="590" stroke="#fff" stroke-width="1.25" stroke-dasharray="2.1 1.8"/>
<line x1="945.50" y1="386.6" x2="945.50" y2="590" stroke="#fff" stroke-width="1.25" stroke-dasharray="2.1 1.8"/>
<line x1="765.6" y1="366.5" x2="978.1" y2="366.5" stroke="#1a1a1a" stroke-width="0.9"/><polygon points="761.0,366.5 766.6,362.8 766.6,370.2" fill="#1a1a1a"/><polygon points="982.7,366.5 977.1,362.8 977.1,370.2" fill="#1a1a1a"/>
<line x1="740.9" y1="390.0" x2="740.9" y2="586.4" stroke="#1a1a1a" stroke-width="0.9"/><polygon points="740.9,385.6 737.3,391.0 744.5,391.0" fill="#1a1a1a"/><polygon points="740.9,590.8 737.3,585.4 744.5,585.4" fill="#1a1a1a"/>
</svg>
<div class="t c" style="left:688.2px;top:145.1px">49 cm</div>
<div class="t c" style="left:785.0px;top:145.1px">49 cm</div>
<div class="t c" style="left:888.2px;top:145.1px">49 cm</div>
<div class="t h" style="left:71.80000000000001px;top:279px">147x270 cm</div>
<div class="t l" style="left:105.0px;top:335.5px">147 cm</div>
<div class="t v" style="left:40.900000000000006px;top:525.6px">270 cm</div>
<div class="t h" style="left:287.0px;top:279px">196x270 cm</div>
<div class="t l" style="left:319.9px;top:335.5px">196 cm</div>
<div class="t v" style="left:238.1px;top:525.6px">270 cm</div>
<div class="t h" style="left:522.4px;top:279px">245x270 cm</div>
<div class="t l" style="left:569.3px;top:335.5px">245 cm</div>
<div class="t v" style="left:461.5px;top:525.6px">270 cm</div>
<div class="t h" style="left:807.6999999999999px;top:279px">294x270 cm</div>
<div class="t l" style="left:841.2px;top:335.5px">294 cm</div>
<div class="t v" style="left:713.6px;top:525.6px">270 cm</div>
</body></html>
